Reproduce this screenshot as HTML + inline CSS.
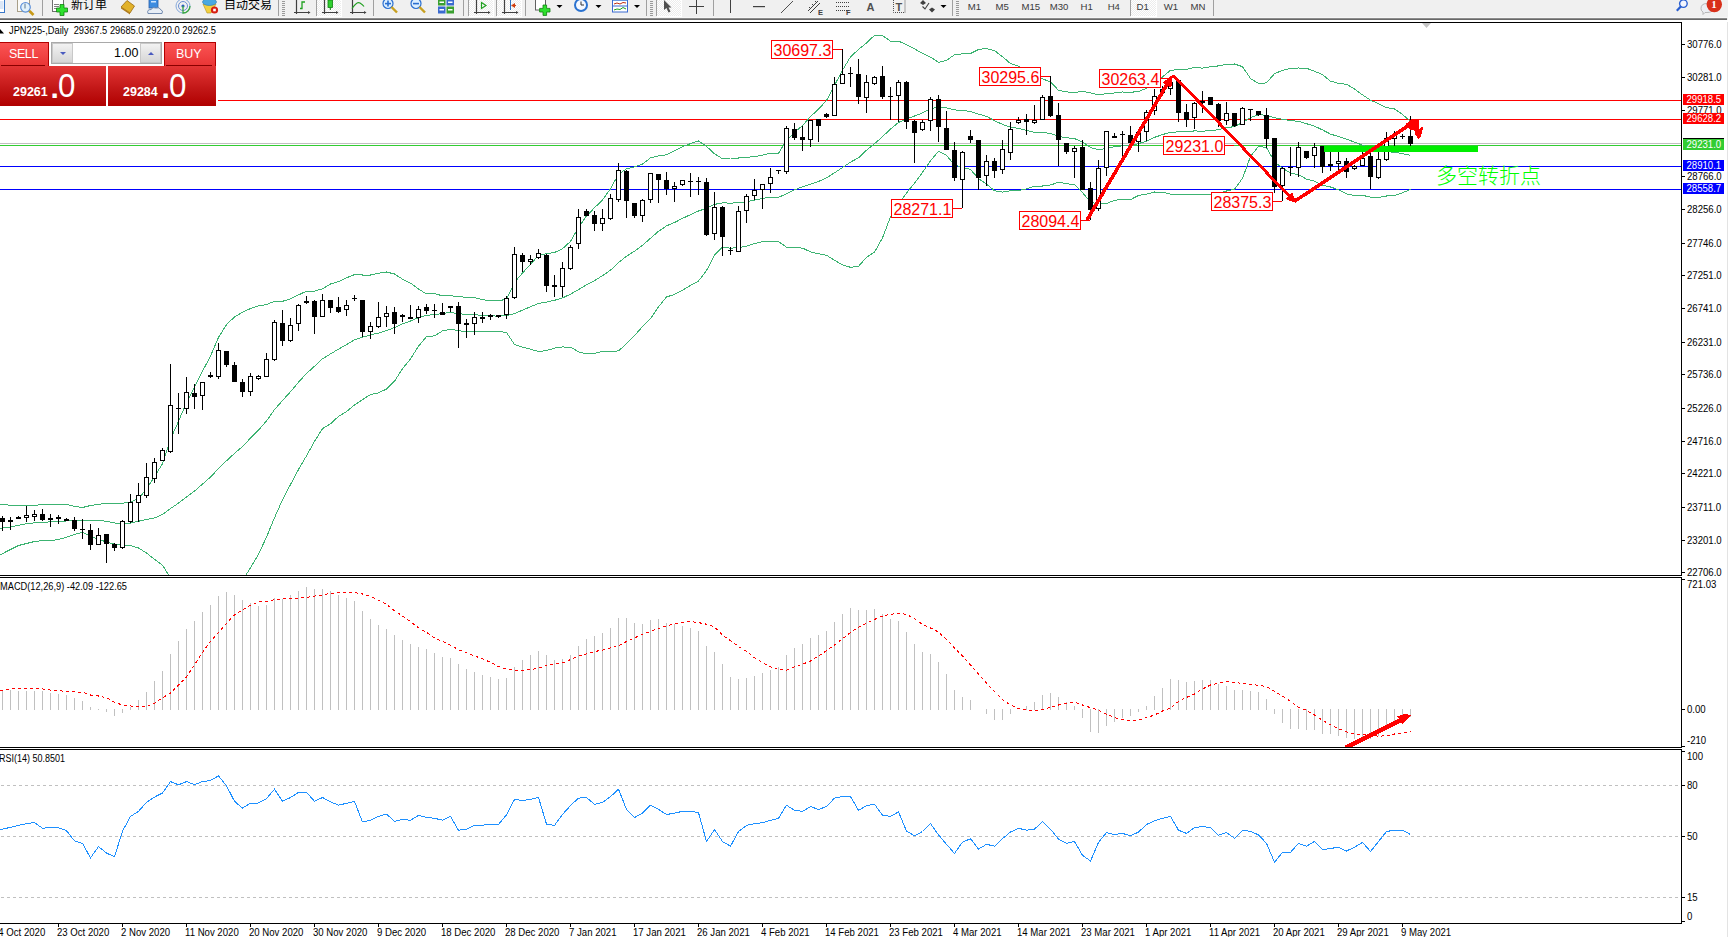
<!DOCTYPE html>
<html><head><meta charset="utf-8"><title>JPN225 Daily</title><style>
*{margin:0;padding:0;box-sizing:border-box}
html,body{width:1728px;height:937px;overflow:hidden;background:#fff;font-family:'Liberation Sans', 'DejaVu Sans', sans-serif}
#root{position:relative;width:1728px;height:937px;overflow:hidden}
.oc{position:absolute;left:0;top:42px;width:218px;height:64px;background:#fff}
.sell,.buy{position:absolute;top:0;height:25px;color:#fff;font-size:12.5px;line-height:22px;
  background:linear-gradient(#fb5454,#e83333);border:1px solid #b30000;border-bottom:none}
.sell{left:0;width:49px;padding-left:9px;border-left:none;letter-spacing:-0.4px}
.buy{left:164px;width:52px;padding-left:11px}
.sell:after,.buy:after{content:"";position:absolute;left:1px;right:3px;top:22px;height:1px;background:#8a0000}
.lot{position:absolute;left:51px;top:0;width:111px;height:22px;border:1px solid #a9a9a9;background:#fff}
.dn,.up{position:absolute;top:0;width:21px;height:20px;background:linear-gradient(#f2f2f2,#d6d6d6);border:1px solid #c8c8c8}
.dn{left:0} .up{right:0}
.dn i,.up i{position:absolute;left:7px;top:8px;width:0;height:0;border-left:3px solid transparent;border-right:3px solid transparent}
.dn i{border-top:3px solid #4a5bbf} .up i{border-bottom:3px solid #4a5bbf}
.val{position:absolute;left:62px;top:3px;font-size:12.5px;color:#000}
.pb{position:absolute;top:24px;height:40px;background:linear-gradient(#e33535,#c01515 60%,#b00000);color:#fff;white-space:nowrap}
.pl{left:0;width:106px} .pr{left:108px;width:108px}
.pb .s{position:absolute;bottom:7px;font-size:12.5px;font-weight:bold}
.pb .d{position:absolute;bottom:18.5px;font-size:30px;font-weight:bold;line-height:0}
.pb .b{position:absolute;bottom:4px;font-size:34px;line-height:34px;transform:scaleX(0.92);transform-origin:0 0}
.pl .s{left:13px} .pl .d{left:50.5px} .pl .b{left:58px}
.pr .s{left:15px} .pr .d{left:53.5px} .pr .b{left:61px}
</style></head>
<body><div id="root">
<svg width="1728" height="937" viewBox="0 0 1728 937" style="position:absolute;left:0;top:0">
<defs><clipPath id="cm"><rect x="0" y="23" width="1681" height="552"/></clipPath><clipPath id="cd"><rect x="0" y="578" width="1681" height="169"/></clipPath><clipPath id="cr"><rect x="0" y="750" width="1681" height="173"/></clipPath></defs>
<g shape-rendering="crispEdges" fill="#000">
<rect x="0" y="22" width="1682" height="1"/>
<rect x="1681" y="22" width="1" height="554"/>
<rect x="0" y="575" width="1682" height="1"/>
<rect x="0" y="577" width="1682" height="1"/>
<rect x="1681" y="577" width="1" height="171"/>
<rect x="0" y="747" width="1682" height="1"/>
<rect x="0" y="749" width="1682" height="1"/>
<rect x="1681" y="749" width="1" height="175"/>
<rect x="0" y="923" width="1682" height="1"/>
</g>
<g clip-path="url(#cm)">
<g shape-rendering="crispEdges">
<rect x="0" y="100" width="1681" height="1" fill="#ff0000"/>
<rect x="0" y="119" width="1681" height="1" fill="#ff0000"/>
<rect x="0" y="143" width="1681" height="1" fill="#c0c0c0"/>
<rect x="0" y="145" width="1681" height="1" fill="#32cd32"/>
<rect x="0" y="166" width="1681" height="1" fill="#0000ff"/>
<rect x="0" y="189" width="1681" height="1" fill="#0000ff"/>
</g>
<g fill="none" stroke="#3cb371" stroke-width="1" shape-rendering="crispEdges">
<polyline points="-5.5,503.7 2.5,504.5 10.5,505.3 18.5,505.3 26.5,505.3 34.5,505.3 42.5,504.6 50.5,504.4 58.5,504.4 66.5,504.4 74.5,506.4 82.5,507.5 90.5,505.5 98.5,504.3 106.5,503.3 114.5,503.4 122.5,503.2 130.5,502.3 138.5,498.5 146.5,489.0 154.5,476.7 162.5,463.6 170.5,439.1 178.5,421.4 186.5,402.3 194.5,387.4 202.5,371.1 210.5,356.1 218.5,337.4 226.5,324.6 234.5,316.9 242.5,312.2 250.5,308.5 258.5,305.9 266.5,304.6 274.5,301.3 282.5,301.3 290.5,298.9 298.5,294.9 306.5,291.2 314.5,291.1 322.5,288.8 330.5,284.0 338.5,281.7 346.5,277.8 354.5,274.6 362.5,275.0 370.5,275.0 378.5,273.3 386.5,272.0 394.5,274.0 402.5,279.1 410.5,283.1 418.5,289.1 426.5,293.9 434.5,293.5 442.5,295.9 450.5,295.8 458.5,296.4 466.5,297.5 474.5,297.5 482.5,299.8 490.5,300.5 498.5,300.8 506.5,299.2 514.5,282.5 522.5,273.0 530.5,264.3 538.5,255.4 546.5,253.7 554.5,252.5 562.5,248.7 570.5,241.4 578.5,227.5 586.5,215.9 594.5,207.8 602.5,199.9 610.5,188.8 618.5,174.1 626.5,168.9 634.5,166.9 642.5,164.1 650.5,157.8 658.5,155.8 666.5,154.8 674.5,150.6 682.5,146.6 690.5,143.6 698.5,141.0 706.5,146.3 714.5,153.8 722.5,158.7 730.5,158.0 738.5,158.0 746.5,157.4 754.5,156.6 762.5,155.2 770.5,153.1 778.5,153.3 786.5,140.3 794.5,132.3 802.5,125.6 810.5,116.5 818.5,109.2 826.5,100.5 834.5,85.4 842.5,70.2 850.5,56.9 858.5,49.4 866.5,43.0 874.5,35.3 882.5,35.5 890.5,41.2 898.5,41.1 906.5,44.7 914.5,48.9 922.5,53.4 930.5,57.1 938.5,62.4 946.5,60.4 954.5,54.8 962.5,53.8 970.5,53.5 978.5,49.5 986.5,48.5 994.5,50.6 1002.5,56.7 1010.5,63.6 1018.5,66.1 1026.5,71.7 1034.5,78.9 1042.5,78.9 1050.5,81.8 1058.5,90.3 1066.5,91.9 1074.5,92.5 1082.5,91.4 1090.5,92.8 1098.5,95.0 1106.5,93.5 1114.5,93.0 1122.5,92.0 1130.5,92.2 1138.5,91.7 1146.5,88.2 1154.5,82.8 1162.5,77.0 1170.5,70.3 1178.5,69.6 1186.5,69.4 1194.5,67.5 1202.5,68.1 1210.5,66.8 1218.5,65.9 1226.5,64.4 1234.5,64.0 1242.5,66.7 1250.5,78.5 1258.5,83.5 1266.5,82.9 1274.5,73.6 1282.5,70.5 1290.5,68.3 1298.5,68.0 1306.5,68.2 1314.5,71.3 1322.5,74.5 1330.5,81.2 1338.5,83.3 1346.5,84.3 1354.5,88.9 1362.5,94.9 1370.5,100.2 1378.5,103.6 1386.5,107.7 1394.5,108.9 1402.5,114.5 1410.5,121.3"/>
<polyline points="-5.5,529.0 2.5,528.0 10.5,527.0 18.5,525.2 26.5,523.8 34.5,522.8 42.5,522.2 50.5,521.9 58.5,521.3 66.5,521.0 74.5,520.3 82.5,520.2 90.5,520.2 98.5,520.2 106.5,521.3 114.5,523.0 122.5,524.0 130.5,523.2 138.5,521.2 146.5,519.6 154.5,518.0 162.5,514.4 170.5,508.6 178.5,503.1 186.5,496.9 194.5,491.1 202.5,484.1 210.5,477.0 218.5,468.6 226.5,460.8 234.5,453.4 242.5,446.5 250.5,438.1 258.5,430.1 266.5,420.9 274.5,409.6 282.5,400.6 290.5,391.7 298.5,382.2 306.5,373.5 314.5,366.2 322.5,358.8 330.5,353.9 338.5,349.1 346.5,344.7 354.5,339.8 362.5,337.3 370.5,334.8 378.5,333.1 386.5,330.5 394.5,327.6 402.5,323.9 410.5,321.0 418.5,317.6 426.5,315.2 434.5,314.7 442.5,313.4 450.5,312.6 458.5,313.5 466.5,314.6 474.5,314.6 482.5,315.6 490.5,315.9 498.5,316.1 506.5,315.8 514.5,313.6 522.5,310.1 530.5,306.7 538.5,303.5 546.5,302.1 554.5,300.3 562.5,297.9 570.5,294.2 578.5,289.6 586.5,284.9 594.5,280.6 602.5,275.7 610.5,270.2 618.5,262.5 626.5,256.3 634.5,251.2 642.5,245.3 650.5,238.2 658.5,231.3 666.5,225.9 674.5,222.5 682.5,218.4 690.5,214.6 698.5,211.0 706.5,208.4 714.5,204.4 722.5,202.9 730.5,203.1 738.5,202.8 746.5,201.8 754.5,200.1 762.5,198.4 770.5,197.3 778.5,197.4 786.5,193.8 794.5,189.8 802.5,186.8 810.5,184.2 818.5,181.5 826.5,177.9 834.5,172.8 842.5,167.5 850.5,162.1 858.5,157.8 866.5,150.2 874.5,143.7 882.5,136.7 890.5,129.0 898.5,122.5 906.5,118.8 914.5,116.0 922.5,112.9 930.5,109.0 938.5,106.8 946.5,107.9 954.5,109.9 962.5,110.5 970.5,111.5 978.5,114.1 986.5,116.3 994.5,120.7 1002.5,124.4 1010.5,127.2 1018.5,128.3 1026.5,130.3 1034.5,132.4 1042.5,132.4 1050.5,133.4 1058.5,136.3 1066.5,137.8 1074.5,138.6 1082.5,141.9 1090.5,147.5 1098.5,149.6 1106.5,148.6 1114.5,146.6 1122.5,145.8 1130.5,145.9 1138.5,143.6 1146.5,141.2 1154.5,137.4 1162.5,134.6 1170.5,132.2 1178.5,131.9 1186.5,131.8 1194.5,130.9 1202.5,131.2 1210.5,130.6 1218.5,129.7 1226.5,127.7 1234.5,126.6 1242.5,122.5 1250.5,117.5 1258.5,114.8 1266.5,115.2 1274.5,117.7 1282.5,119.3 1290.5,120.6 1298.5,121.3 1306.5,123.7 1314.5,126.2 1322.5,129.9 1330.5,134.1 1338.5,136.5 1346.5,139.1 1354.5,142.2 1362.5,145.1 1370.5,148.7 1378.5,150.6 1386.5,151.8 1394.5,152.2 1402.5,153.7 1410.5,155.3"/>
<polyline points="-5.5,557.7 2.5,553.6 10.5,549.5 18.5,545.5 26.5,543.5 34.5,541.5 42.5,540.6 50.5,540.6 58.5,539.5 66.5,537.3 74.5,534.3 82.5,532.4 90.5,536.2 98.5,539.3 106.5,542.0 114.5,544.2 122.5,544.9 130.5,545.5 138.5,548.0 146.5,553.0 154.5,559.3 162.5,565.2 170.5,578.0 178.5,584.7 186.5,591.5 194.5,594.7 202.5,597.2 210.5,597.9 218.5,599.7 226.5,596.9 234.5,589.9 242.5,580.8 250.5,567.6 258.5,554.3 266.5,537.1 274.5,517.8 282.5,499.8 290.5,484.5 298.5,469.5 306.5,455.8 314.5,441.4 322.5,428.7 330.5,423.8 338.5,416.4 346.5,411.6 354.5,405.0 362.5,399.6 370.5,394.5 378.5,392.9 386.5,389.0 394.5,381.2 402.5,368.6 410.5,358.9 418.5,346.2 426.5,336.6 434.5,335.9 442.5,330.9 450.5,329.3 458.5,330.6 466.5,331.7 474.5,331.7 482.5,331.3 490.5,331.3 498.5,331.5 506.5,332.4 514.5,344.6 522.5,347.1 530.5,349.1 538.5,351.6 546.5,350.6 554.5,348.1 562.5,347.0 570.5,347.1 578.5,351.8 586.5,353.9 594.5,353.3 602.5,351.5 610.5,351.6 618.5,350.9 626.5,343.7 634.5,335.6 642.5,326.5 650.5,318.6 658.5,306.9 666.5,297.0 674.5,294.4 682.5,290.2 690.5,285.5 698.5,281.0 706.5,270.6 714.5,255.1 722.5,247.1 730.5,248.2 738.5,247.6 746.5,246.2 754.5,243.6 762.5,241.6 770.5,241.6 778.5,241.5 786.5,247.2 794.5,247.4 802.5,248.1 810.5,251.9 818.5,253.8 826.5,255.3 834.5,260.2 842.5,264.8 850.5,267.3 858.5,266.3 866.5,257.4 874.5,252.1 882.5,237.9 890.5,216.8 898.5,204.0 906.5,193.0 914.5,183.1 922.5,172.4 930.5,160.9 938.5,151.2 946.5,155.4 954.5,165.0 962.5,167.2 970.5,169.5 978.5,178.7 986.5,184.1 994.5,190.7 1002.5,192.1 1010.5,190.7 1018.5,190.5 1026.5,188.9 1034.5,186.0 1042.5,186.0 1050.5,185.0 1058.5,182.3 1066.5,183.7 1074.5,184.6 1082.5,192.5 1090.5,202.2 1098.5,204.1 1106.5,203.7 1114.5,200.2 1122.5,199.5 1130.5,199.6 1138.5,195.5 1146.5,194.1 1154.5,192.0 1162.5,192.2 1170.5,194.2 1178.5,194.2 1186.5,194.2 1194.5,194.4 1202.5,194.2 1210.5,194.4 1218.5,193.4 1226.5,191.0 1234.5,189.2 1242.5,178.3 1250.5,156.5 1258.5,146.2 1266.5,147.6 1274.5,161.8 1282.5,168.2 1290.5,172.9 1298.5,174.7 1306.5,179.1 1314.5,181.1 1322.5,185.3 1330.5,187.0 1338.5,189.7 1346.5,193.9 1354.5,195.6 1362.5,195.3 1370.5,197.2 1378.5,197.6 1386.5,196.0 1394.5,195.6 1402.5,192.8 1410.5,189.4"/>
</g>
<g shape-rendering="crispEdges">
<rect x="2" y="516" width="1" height="15" fill="#000"/>
<rect x="0" y="518" width="5" height="4" fill="#000"/>
<rect x="10" y="517" width="1" height="13" fill="#000"/>
<rect x="8" y="520" width="5" height="2" fill="#000"/>
<rect x="18" y="516" width="1" height="3" fill="#000"/>
<rect x="16" y="517" width="5" height="2" fill="#000"/>
<rect x="26" y="506" width="1" height="16" fill="#000"/>
<rect x="24.5" y="515.5" width="4" height="2" fill="#fff" stroke="#000"/>
<rect x="34" y="510" width="1" height="11" fill="#000"/>
<rect x="32.5" y="514.5" width="4" height="2" fill="#fff" stroke="#000"/>
<rect x="42" y="509" width="1" height="12" fill="#000"/>
<rect x="40" y="514" width="5" height="6" fill="#000"/>
<rect x="50" y="514" width="1" height="13" fill="#000"/>
<rect x="48" y="518" width="5" height="2" fill="#000"/>
<rect x="58" y="515" width="1" height="9" fill="#000"/>
<rect x="56" y="517" width="5" height="2" fill="#000"/>
<rect x="66" y="518" width="1" height="3" fill="#000"/>
<rect x="64" y="519" width="5" height="2" fill="#000"/>
<rect x="74" y="517" width="1" height="14" fill="#000"/>
<rect x="72" y="520" width="5" height="9" fill="#000"/>
<rect x="82" y="519" width="1" height="20" fill="#000"/>
<rect x="80" y="529" width="5" height="1" fill="#000"/>
<rect x="90" y="524" width="1" height="26" fill="#000"/>
<rect x="88" y="530" width="5" height="15" fill="#000"/>
<rect x="98" y="528" width="1" height="17" fill="#000"/>
<rect x="96.5" y="535.5" width="4" height="9" fill="#fff" stroke="#000"/>
<rect x="106" y="534" width="1" height="29" fill="#000"/>
<rect x="104" y="534" width="5" height="10" fill="#000"/>
<rect x="114" y="543" width="1" height="8" fill="#000"/>
<rect x="112" y="544" width="5" height="4" fill="#000"/>
<rect x="122" y="520" width="1" height="29" fill="#000"/>
<rect x="120.5" y="521.5" width="4" height="26" fill="#fff" stroke="#000"/>
<rect x="130" y="494" width="1" height="29" fill="#000"/>
<rect x="128.5" y="502.5" width="4" height="19" fill="#fff" stroke="#000"/>
<rect x="138" y="483" width="1" height="39" fill="#000"/>
<rect x="136.5" y="495.5" width="4" height="7" fill="#fff" stroke="#000"/>
<rect x="146" y="463" width="1" height="35" fill="#000"/>
<rect x="144.5" y="477.5" width="4" height="18" fill="#fff" stroke="#000"/>
<rect x="154" y="458" width="1" height="25" fill="#000"/>
<rect x="152.5" y="462.5" width="4" height="16" fill="#fff" stroke="#000"/>
<rect x="162" y="448" width="1" height="13" fill="#000"/>
<rect x="160.5" y="450.5" width="4" height="10" fill="#fff" stroke="#000"/>
<rect x="170" y="364" width="1" height="89" fill="#000"/>
<rect x="168.5" y="405.5" width="4" height="46" fill="#fff" stroke="#000"/>
<rect x="178" y="393" width="1" height="41" fill="#000"/>
<rect x="176" y="408" width="5" height="1" fill="#000"/>
<rect x="186" y="377" width="1" height="37" fill="#000"/>
<rect x="184.5" y="392.5" width="4" height="16" fill="#fff" stroke="#000"/>
<rect x="194" y="384" width="1" height="25" fill="#000"/>
<rect x="192" y="393" width="5" height="4" fill="#000"/>
<rect x="202" y="382" width="1" height="28" fill="#000"/>
<rect x="200.5" y="382.5" width="4" height="13" fill="#fff" stroke="#000"/>
<rect x="210" y="372" width="1" height="6" fill="#000"/>
<rect x="208" y="375" width="5" height="2" fill="#000"/>
<rect x="218" y="343" width="1" height="36" fill="#000"/>
<rect x="216.5" y="350.5" width="4" height="26" fill="#fff" stroke="#000"/>
<rect x="226" y="351" width="1" height="16" fill="#000"/>
<rect x="224" y="351" width="5" height="14" fill="#000"/>
<rect x="234" y="362" width="1" height="20" fill="#000"/>
<rect x="232" y="365" width="5" height="17" fill="#000"/>
<rect x="242" y="379" width="1" height="18" fill="#000"/>
<rect x="240" y="382" width="5" height="10" fill="#000"/>
<rect x="250" y="373" width="1" height="23" fill="#000"/>
<rect x="248.5" y="376.5" width="4" height="15" fill="#fff" stroke="#000"/>
<rect x="258" y="375" width="1" height="5" fill="#000"/>
<rect x="256.5" y="376.5" width="4" height="2" fill="#fff" stroke="#000"/>
<rect x="266" y="353" width="1" height="24" fill="#000"/>
<rect x="264.5" y="359.5" width="4" height="17" fill="#fff" stroke="#000"/>
<rect x="274" y="320" width="1" height="41" fill="#000"/>
<rect x="272.5" y="322.5" width="4" height="37" fill="#fff" stroke="#000"/>
<rect x="282" y="310" width="1" height="36" fill="#000"/>
<rect x="280" y="323" width="5" height="18" fill="#000"/>
<rect x="290" y="318" width="1" height="24" fill="#000"/>
<rect x="288.5" y="325.5" width="4" height="15" fill="#fff" stroke="#000"/>
<rect x="298" y="304" width="1" height="27" fill="#000"/>
<rect x="296.5" y="305.5" width="4" height="18" fill="#fff" stroke="#000"/>
<rect x="306" y="296" width="1" height="8" fill="#000"/>
<rect x="304" y="301" width="5" height="2" fill="#000"/>
<rect x="314" y="300" width="1" height="34" fill="#000"/>
<rect x="312" y="301" width="5" height="16" fill="#000"/>
<rect x="322" y="294" width="1" height="23" fill="#000"/>
<rect x="320.5" y="300.5" width="4" height="16" fill="#fff" stroke="#000"/>
<rect x="330" y="300" width="1" height="13" fill="#000"/>
<rect x="328" y="300" width="5" height="8" fill="#000"/>
<rect x="338" y="297" width="1" height="16" fill="#000"/>
<rect x="336" y="307" width="5" height="5" fill="#000"/>
<rect x="346" y="300" width="1" height="16" fill="#000"/>
<rect x="344.5" y="305.5" width="4" height="4" fill="#fff" stroke="#000"/>
<rect x="354" y="295" width="1" height="6" fill="#000"/>
<rect x="352" y="298" width="5" height="1" fill="#000"/>
<rect x="362" y="300" width="1" height="37" fill="#000"/>
<rect x="360" y="300" width="5" height="32" fill="#000"/>
<rect x="370" y="322" width="1" height="17" fill="#000"/>
<rect x="368.5" y="326.5" width="4" height="5" fill="#fff" stroke="#000"/>
<rect x="378" y="302" width="1" height="26" fill="#000"/>
<rect x="376.5" y="317.5" width="4" height="9" fill="#fff" stroke="#000"/>
<rect x="386" y="306" width="1" height="21" fill="#000"/>
<rect x="384.5" y="313.5" width="4" height="3" fill="#fff" stroke="#000"/>
<rect x="394" y="307" width="1" height="27" fill="#000"/>
<rect x="392" y="312" width="5" height="12" fill="#000"/>
<rect x="402" y="314" width="1" height="8" fill="#000"/>
<rect x="400" y="315" width="5" height="2" fill="#000"/>
<rect x="410" y="305" width="1" height="14" fill="#000"/>
<rect x="408" y="317" width="5" height="2" fill="#000"/>
<rect x="418" y="306" width="1" height="17" fill="#000"/>
<rect x="416.5" y="309.5" width="4" height="8" fill="#fff" stroke="#000"/>
<rect x="426" y="304" width="1" height="10" fill="#000"/>
<rect x="424" y="307" width="5" height="4" fill="#000"/>
<rect x="434" y="304" width="1" height="14" fill="#000"/>
<rect x="432" y="310" width="5" height="1" fill="#000"/>
<rect x="442" y="303" width="1" height="12" fill="#000"/>
<rect x="440" y="312" width="5" height="3" fill="#000"/>
<rect x="450" y="306" width="1" height="6" fill="#000"/>
<rect x="448" y="306" width="5" height="2" fill="#000"/>
<rect x="458" y="302" width="1" height="46" fill="#000"/>
<rect x="456" y="306" width="5" height="18" fill="#000"/>
<rect x="466" y="319" width="1" height="19" fill="#000"/>
<rect x="464" y="323" width="5" height="2" fill="#000"/>
<rect x="474" y="312" width="1" height="23" fill="#000"/>
<rect x="472.5" y="317.5" width="4" height="6" fill="#fff" stroke="#000"/>
<rect x="482" y="312" width="1" height="11" fill="#000"/>
<rect x="480" y="317" width="5" height="2" fill="#000"/>
<rect x="490" y="314" width="1" height="6" fill="#000"/>
<rect x="488.5" y="315.5" width="4" height="1" fill="#fff" stroke="#000"/>
<rect x="498" y="315" width="1" height="3" fill="#000"/>
<rect x="496" y="315" width="5" height="2" fill="#000"/>
<rect x="506" y="296" width="1" height="23" fill="#000"/>
<rect x="504.5" y="298.5" width="4" height="16" fill="#fff" stroke="#000"/>
<rect x="514" y="247" width="1" height="52" fill="#000"/>
<rect x="512.5" y="254.5" width="4" height="43" fill="#fff" stroke="#000"/>
<rect x="522" y="253" width="1" height="19" fill="#000"/>
<rect x="520" y="255" width="5" height="7" fill="#000"/>
<rect x="530" y="255" width="1" height="10" fill="#000"/>
<rect x="528.5" y="259.5" width="4" height="2" fill="#fff" stroke="#000"/>
<rect x="538" y="249" width="1" height="10" fill="#000"/>
<rect x="536.5" y="253.5" width="4" height="4" fill="#fff" stroke="#000"/>
<rect x="546" y="254" width="1" height="38" fill="#000"/>
<rect x="544" y="255" width="5" height="31" fill="#000"/>
<rect x="554" y="275" width="1" height="22" fill="#000"/>
<rect x="552" y="285" width="5" height="2" fill="#000"/>
<rect x="562" y="262" width="1" height="35" fill="#000"/>
<rect x="560.5" y="268.5" width="4" height="18" fill="#fff" stroke="#000"/>
<rect x="570" y="245" width="1" height="25" fill="#000"/>
<rect x="568.5" y="247.5" width="4" height="21" fill="#fff" stroke="#000"/>
<rect x="578" y="209" width="1" height="40" fill="#000"/>
<rect x="576.5" y="217.5" width="4" height="26" fill="#fff" stroke="#000"/>
<rect x="586" y="209" width="1" height="7" fill="#000"/>
<rect x="584" y="211" width="5" height="5" fill="#000"/>
<rect x="594" y="211" width="1" height="20" fill="#000"/>
<rect x="592" y="215" width="5" height="9" fill="#000"/>
<rect x="602" y="209" width="1" height="22" fill="#000"/>
<rect x="600.5" y="218.5" width="4" height="5" fill="#fff" stroke="#000"/>
<rect x="610" y="194" width="1" height="26" fill="#000"/>
<rect x="608.5" y="198.5" width="4" height="20" fill="#fff" stroke="#000"/>
<rect x="618" y="163" width="1" height="39" fill="#000"/>
<rect x="616.5" y="170.5" width="4" height="29" fill="#fff" stroke="#000"/>
<rect x="626" y="170" width="1" height="48" fill="#000"/>
<rect x="624" y="171" width="5" height="30" fill="#000"/>
<rect x="634" y="203" width="1" height="15" fill="#000"/>
<rect x="632" y="203" width="5" height="13" fill="#000"/>
<rect x="642" y="199" width="1" height="23" fill="#000"/>
<rect x="640.5" y="200.5" width="4" height="15" fill="#fff" stroke="#000"/>
<rect x="650" y="173" width="1" height="30" fill="#000"/>
<rect x="648.5" y="173.5" width="4" height="26" fill="#fff" stroke="#000"/>
<rect x="658" y="174" width="1" height="29" fill="#000"/>
<rect x="656" y="174" width="5" height="6" fill="#000"/>
<rect x="666" y="172" width="1" height="23" fill="#000"/>
<rect x="664" y="180" width="5" height="9" fill="#000"/>
<rect x="674" y="182" width="1" height="20" fill="#000"/>
<rect x="672.5" y="186.5" width="4" height="2" fill="#fff" stroke="#000"/>
<rect x="682" y="180" width="1" height="6" fill="#000"/>
<rect x="680.5" y="180.5" width="4" height="4" fill="#fff" stroke="#000"/>
<rect x="690" y="173" width="1" height="24" fill="#000"/>
<rect x="688" y="181" width="5" height="1" fill="#000"/>
<rect x="698" y="177" width="1" height="18" fill="#000"/>
<rect x="696" y="181" width="5" height="1" fill="#000"/>
<rect x="706" y="178" width="1" height="58" fill="#000"/>
<rect x="704" y="182" width="5" height="53" fill="#000"/>
<rect x="714" y="192" width="1" height="48" fill="#000"/>
<rect x="712.5" y="207.5" width="4" height="26" fill="#fff" stroke="#000"/>
<rect x="722" y="206" width="1" height="50" fill="#000"/>
<rect x="720" y="207" width="5" height="30" fill="#000"/>
<rect x="730" y="247" width="1" height="8" fill="#000"/>
<rect x="728" y="250" width="5" height="1" fill="#000"/>
<rect x="738" y="206" width="1" height="46" fill="#000"/>
<rect x="736.5" y="211.5" width="4" height="40" fill="#fff" stroke="#000"/>
<rect x="746" y="194" width="1" height="29" fill="#000"/>
<rect x="744.5" y="196.5" width="4" height="14" fill="#fff" stroke="#000"/>
<rect x="754" y="179" width="1" height="21" fill="#000"/>
<rect x="752.5" y="190.5" width="4" height="5" fill="#fff" stroke="#000"/>
<rect x="762" y="184" width="1" height="25" fill="#000"/>
<rect x="760.5" y="184.5" width="4" height="5" fill="#fff" stroke="#000"/>
<rect x="770" y="168" width="1" height="25" fill="#000"/>
<rect x="768.5" y="177.5" width="4" height="6" fill="#fff" stroke="#000"/>
<rect x="778" y="170" width="1" height="4" fill="#000"/>
<rect x="776" y="170" width="5" height="1" fill="#000"/>
<rect x="786" y="126" width="1" height="48" fill="#000"/>
<rect x="784.5" y="128.5" width="4" height="43" fill="#fff" stroke="#000"/>
<rect x="794" y="123" width="1" height="17" fill="#000"/>
<rect x="792" y="129" width="5" height="9" fill="#000"/>
<rect x="802" y="126" width="1" height="25" fill="#000"/>
<rect x="800" y="137" width="5" height="3" fill="#000"/>
<rect x="810" y="120" width="1" height="27" fill="#000"/>
<rect x="808.5" y="120.5" width="4" height="19" fill="#fff" stroke="#000"/>
<rect x="818" y="119" width="1" height="23" fill="#000"/>
<rect x="816" y="119" width="5" height="7" fill="#000"/>
<rect x="826" y="113" width="1" height="5" fill="#000"/>
<rect x="824" y="114" width="5" height="3" fill="#000"/>
<rect x="834" y="77" width="1" height="39" fill="#000"/>
<rect x="832.5" y="84.5" width="4" height="31" fill="#fff" stroke="#000"/>
<rect x="842" y="49" width="1" height="35" fill="#000"/>
<rect x="840.5" y="74.5" width="4" height="9" fill="#fff" stroke="#000"/>
<rect x="850" y="67" width="1" height="20" fill="#000"/>
<rect x="848" y="73" width="5" height="1" fill="#000"/>
<rect x="858" y="59" width="1" height="45" fill="#000"/>
<rect x="856" y="74" width="5" height="23" fill="#000"/>
<rect x="866" y="75" width="1" height="38" fill="#000"/>
<rect x="864.5" y="82.5" width="4" height="15" fill="#fff" stroke="#000"/>
<rect x="874" y="76" width="1" height="9" fill="#000"/>
<rect x="872.5" y="77.5" width="4" height="6" fill="#fff" stroke="#000"/>
<rect x="882" y="66" width="1" height="33" fill="#000"/>
<rect x="880" y="76" width="5" height="21" fill="#000"/>
<rect x="890" y="87" width="1" height="33" fill="#000"/>
<rect x="888" y="96" width="5" height="1" fill="#000"/>
<rect x="898" y="80" width="1" height="42" fill="#000"/>
<rect x="896.5" y="82.5" width="4" height="13" fill="#fff" stroke="#000"/>
<rect x="906" y="81" width="1" height="48" fill="#000"/>
<rect x="904" y="82" width="5" height="40" fill="#000"/>
<rect x="914" y="120" width="1" height="43" fill="#000"/>
<rect x="912" y="121" width="5" height="12" fill="#000"/>
<rect x="922" y="120" width="1" height="11" fill="#000"/>
<rect x="920.5" y="122.5" width="4" height="7" fill="#fff" stroke="#000"/>
<rect x="930" y="97" width="1" height="34" fill="#000"/>
<rect x="928.5" y="99.5" width="4" height="21" fill="#fff" stroke="#000"/>
<rect x="938" y="95" width="1" height="47" fill="#000"/>
<rect x="936" y="99" width="5" height="28" fill="#000"/>
<rect x="946" y="111" width="1" height="39" fill="#000"/>
<rect x="944" y="128" width="5" height="22" fill="#000"/>
<rect x="954" y="142" width="1" height="39" fill="#000"/>
<rect x="952" y="150" width="5" height="28" fill="#000"/>
<rect x="962" y="151" width="1" height="57" fill="#000"/>
<rect x="960.5" y="152.5" width="4" height="27" fill="#fff" stroke="#000"/>
<rect x="970" y="130" width="1" height="13" fill="#000"/>
<rect x="968" y="136" width="5" height="4" fill="#000"/>
<rect x="978" y="140" width="1" height="50" fill="#000"/>
<rect x="976" y="140" width="5" height="38" fill="#000"/>
<rect x="986" y="155" width="1" height="31" fill="#000"/>
<rect x="984.5" y="161.5" width="4" height="14" fill="#fff" stroke="#000"/>
<rect x="994" y="158" width="1" height="20" fill="#000"/>
<rect x="992" y="161" width="5" height="10" fill="#000"/>
<rect x="1002" y="140" width="1" height="34" fill="#000"/>
<rect x="1000.5" y="149.5" width="4" height="20" fill="#fff" stroke="#000"/>
<rect x="1010" y="122" width="1" height="38" fill="#000"/>
<rect x="1008.5" y="129.5" width="4" height="23" fill="#fff" stroke="#000"/>
<rect x="1018" y="117" width="1" height="7" fill="#000"/>
<rect x="1016.5" y="120.5" width="4" height="2" fill="#fff" stroke="#000"/>
<rect x="1026" y="114" width="1" height="21" fill="#000"/>
<rect x="1024" y="119" width="5" height="3" fill="#000"/>
<rect x="1034" y="105" width="1" height="19" fill="#000"/>
<rect x="1032.5" y="120.5" width="4" height="2" fill="#fff" stroke="#000"/>
<rect x="1042" y="95" width="1" height="25" fill="#000"/>
<rect x="1040.5" y="97.5" width="4" height="22" fill="#fff" stroke="#000"/>
<rect x="1050" y="76" width="1" height="41" fill="#000"/>
<rect x="1048" y="96" width="5" height="20" fill="#000"/>
<rect x="1058" y="103" width="1" height="63" fill="#000"/>
<rect x="1056" y="115" width="5" height="25" fill="#000"/>
<rect x="1066" y="143" width="1" height="11" fill="#000"/>
<rect x="1064" y="143" width="5" height="9" fill="#000"/>
<rect x="1074" y="146" width="1" height="32" fill="#000"/>
<rect x="1072.5" y="148.5" width="4" height="3" fill="#fff" stroke="#000"/>
<rect x="1082" y="140" width="1" height="50" fill="#000"/>
<rect x="1080" y="147" width="5" height="43" fill="#000"/>
<rect x="1090" y="182" width="1" height="38" fill="#000"/>
<rect x="1088" y="188" width="5" height="22" fill="#000"/>
<rect x="1098" y="160" width="1" height="51" fill="#000"/>
<rect x="1096.5" y="168.5" width="4" height="40" fill="#fff" stroke="#000"/>
<rect x="1106" y="131" width="1" height="45" fill="#000"/>
<rect x="1104.5" y="131.5" width="4" height="36" fill="#fff" stroke="#000"/>
<rect x="1114" y="133" width="1" height="5" fill="#000"/>
<rect x="1112" y="136" width="5" height="2" fill="#000"/>
<rect x="1122" y="131" width="1" height="26" fill="#000"/>
<rect x="1120" y="134" width="5" height="1" fill="#000"/>
<rect x="1130" y="126" width="1" height="17" fill="#000"/>
<rect x="1128" y="135" width="5" height="8" fill="#000"/>
<rect x="1138" y="131" width="1" height="21" fill="#000"/>
<rect x="1136.5" y="132.5" width="4" height="9" fill="#fff" stroke="#000"/>
<rect x="1146" y="110" width="1" height="31" fill="#000"/>
<rect x="1144.5" y="112.5" width="4" height="19" fill="#fff" stroke="#000"/>
<rect x="1154" y="89" width="1" height="26" fill="#000"/>
<rect x="1152.5" y="96.5" width="4" height="14" fill="#fff" stroke="#000"/>
<rect x="1162" y="86" width="1" height="9" fill="#000"/>
<rect x="1160" y="89" width="5" height="4" fill="#000"/>
<rect x="1170" y="78" width="1" height="17" fill="#000"/>
<rect x="1168.5" y="82.5" width="4" height="6" fill="#fff" stroke="#000"/>
<rect x="1178" y="80" width="1" height="42" fill="#000"/>
<rect x="1176" y="80" width="5" height="33" fill="#000"/>
<rect x="1186" y="104" width="1" height="23" fill="#000"/>
<rect x="1184" y="112" width="5" height="8" fill="#000"/>
<rect x="1194" y="102" width="1" height="27" fill="#000"/>
<rect x="1192.5" y="103.5" width="4" height="14" fill="#fff" stroke="#000"/>
<rect x="1202" y="91" width="1" height="22" fill="#000"/>
<rect x="1200.5" y="101.5" width="4" height="1" fill="#fff" stroke="#000"/>
<rect x="1210" y="97" width="1" height="8" fill="#000"/>
<rect x="1208" y="97" width="5" height="8" fill="#000"/>
<rect x="1218" y="103" width="1" height="24" fill="#000"/>
<rect x="1216" y="104" width="5" height="17" fill="#000"/>
<rect x="1226" y="102" width="1" height="23" fill="#000"/>
<rect x="1224.5" y="113.5" width="4" height="7" fill="#fff" stroke="#000"/>
<rect x="1234" y="113" width="1" height="14" fill="#000"/>
<rect x="1232" y="113" width="5" height="13" fill="#000"/>
<rect x="1242" y="107" width="1" height="18" fill="#000"/>
<rect x="1240.5" y="108.5" width="4" height="16" fill="#fff" stroke="#000"/>
<rect x="1250" y="109" width="1" height="12" fill="#000"/>
<rect x="1248" y="109" width="5" height="1" fill="#000"/>
<rect x="1258" y="111" width="1" height="5" fill="#000"/>
<rect x="1256" y="111" width="5" height="4" fill="#000"/>
<rect x="1266" y="108" width="1" height="40" fill="#000"/>
<rect x="1264" y="115" width="5" height="24" fill="#000"/>
<rect x="1274" y="138" width="1" height="55" fill="#000"/>
<rect x="1272" y="138" width="5" height="49" fill="#000"/>
<rect x="1282" y="167" width="1" height="34" fill="#000"/>
<rect x="1280.5" y="168.5" width="4" height="17" fill="#fff" stroke="#000"/>
<rect x="1290" y="147" width="1" height="29" fill="#000"/>
<rect x="1288" y="167" width="5" height="1" fill="#000"/>
<rect x="1298" y="142" width="1" height="35" fill="#000"/>
<rect x="1296.5" y="147.5" width="4" height="20" fill="#fff" stroke="#000"/>
<rect x="1306" y="151" width="1" height="8" fill="#000"/>
<rect x="1304" y="151" width="5" height="7" fill="#000"/>
<rect x="1314" y="143" width="1" height="25" fill="#000"/>
<rect x="1312.5" y="147.5" width="4" height="8" fill="#fff" stroke="#000"/>
<rect x="1322" y="146" width="1" height="27" fill="#000"/>
<rect x="1320" y="146" width="5" height="21" fill="#000"/>
<rect x="1330" y="150" width="1" height="21" fill="#000"/>
<rect x="1328" y="164" width="5" height="2" fill="#000"/>
<rect x="1338" y="150" width="1" height="20" fill="#000"/>
<rect x="1336.5" y="161.5" width="4" height="2" fill="#fff" stroke="#000"/>
<rect x="1346" y="158" width="1" height="20" fill="#000"/>
<rect x="1344" y="161" width="5" height="11" fill="#000"/>
<rect x="1354" y="165" width="1" height="5" fill="#000"/>
<rect x="1352.5" y="166.5" width="4" height="2" fill="#fff" stroke="#000"/>
<rect x="1362" y="150" width="1" height="16" fill="#000"/>
<rect x="1360.5" y="158.5" width="4" height="7" fill="#fff" stroke="#000"/>
<rect x="1370" y="153" width="1" height="36" fill="#000"/>
<rect x="1368" y="156" width="5" height="21" fill="#000"/>
<rect x="1378" y="150" width="1" height="29" fill="#000"/>
<rect x="1376.5" y="159.5" width="4" height="18" fill="#fff" stroke="#000"/>
<rect x="1386" y="132" width="1" height="29" fill="#000"/>
<rect x="1384.5" y="138.5" width="4" height="21" fill="#fff" stroke="#000"/>
<rect x="1394" y="131" width="1" height="15" fill="#000"/>
<rect x="1392.5" y="134.5" width="4" height="4" fill="#fff" stroke="#000"/>
<rect x="1402" y="134" width="1" height="5" fill="#000"/>
<rect x="1400" y="136" width="5" height="1" fill="#000"/>
<rect x="1410" y="116" width="1" height="30" fill="#000"/>
<rect x="1408" y="136" width="5" height="8" fill="#000"/>
</g>
</g>
<g clip-path="url(#cd)" shape-rendering="crispEdges">
<rect x="2" y="691" width="1" height="19" fill="#c0c0c0"/>
<rect x="10" y="690" width="1" height="20" fill="#c0c0c0"/>
<rect x="18" y="691" width="1" height="19" fill="#c0c0c0"/>
<rect x="26" y="691" width="1" height="19" fill="#c0c0c0"/>
<rect x="34" y="691" width="1" height="19" fill="#c0c0c0"/>
<rect x="42" y="691" width="1" height="19" fill="#c0c0c0"/>
<rect x="50" y="693" width="1" height="17" fill="#c0c0c0"/>
<rect x="58" y="694" width="1" height="16" fill="#c0c0c0"/>
<rect x="66" y="695" width="1" height="15" fill="#c0c0c0"/>
<rect x="74" y="698" width="1" height="12" fill="#c0c0c0"/>
<rect x="82" y="701" width="1" height="9" fill="#c0c0c0"/>
<rect x="90" y="707" width="1" height="3" fill="#c0c0c0"/>
<rect x="98" y="709" width="1" height="1" fill="#c0c0c0"/>
<rect x="106" y="709" width="1" height="3" fill="#c0c0c0"/>
<rect x="114" y="709" width="1" height="7" fill="#c0c0c0"/>
<rect x="122" y="709" width="1" height="4" fill="#c0c0c0"/>
<rect x="130" y="707" width="1" height="3" fill="#c0c0c0"/>
<rect x="138" y="700" width="1" height="10" fill="#c0c0c0"/>
<rect x="146" y="692" width="1" height="18" fill="#c0c0c0"/>
<rect x="154" y="681" width="1" height="29" fill="#c0c0c0"/>
<rect x="162" y="671" width="1" height="39" fill="#c0c0c0"/>
<rect x="170" y="654" width="1" height="56" fill="#c0c0c0"/>
<rect x="178" y="641" width="1" height="69" fill="#c0c0c0"/>
<rect x="186" y="629" width="1" height="81" fill="#c0c0c0"/>
<rect x="194" y="621" width="1" height="89" fill="#c0c0c0"/>
<rect x="202" y="612" width="1" height="98" fill="#c0c0c0"/>
<rect x="210" y="605" width="1" height="105" fill="#c0c0c0"/>
<rect x="218" y="596" width="1" height="114" fill="#c0c0c0"/>
<rect x="226" y="592" width="1" height="118" fill="#c0c0c0"/>
<rect x="234" y="595" width="1" height="115" fill="#c0c0c0"/>
<rect x="242" y="600" width="1" height="110" fill="#c0c0c0"/>
<rect x="250" y="603" width="1" height="107" fill="#c0c0c0"/>
<rect x="258" y="606" width="1" height="104" fill="#c0c0c0"/>
<rect x="266" y="605" width="1" height="105" fill="#c0c0c0"/>
<rect x="274" y="598" width="1" height="112" fill="#c0c0c0"/>
<rect x="282" y="599" width="1" height="111" fill="#c0c0c0"/>
<rect x="290" y="595" width="1" height="115" fill="#c0c0c0"/>
<rect x="298" y="591" width="1" height="119" fill="#c0c0c0"/>
<rect x="306" y="587" width="1" height="123" fill="#c0c0c0"/>
<rect x="314" y="589" width="1" height="121" fill="#c0c0c0"/>
<rect x="322" y="589" width="1" height="121" fill="#c0c0c0"/>
<rect x="330" y="591" width="1" height="119" fill="#c0c0c0"/>
<rect x="338" y="595" width="1" height="115" fill="#c0c0c0"/>
<rect x="346" y="598" width="1" height="112" fill="#c0c0c0"/>
<rect x="354" y="601" width="1" height="109" fill="#c0c0c0"/>
<rect x="362" y="611" width="1" height="99" fill="#c0c0c0"/>
<rect x="370" y="619" width="1" height="91" fill="#c0c0c0"/>
<rect x="378" y="625" width="1" height="85" fill="#c0c0c0"/>
<rect x="386" y="629" width="1" height="81" fill="#c0c0c0"/>
<rect x="394" y="635" width="1" height="75" fill="#c0c0c0"/>
<rect x="402" y="640" width="1" height="70" fill="#c0c0c0"/>
<rect x="410" y="644" width="1" height="66" fill="#c0c0c0"/>
<rect x="418" y="647" width="1" height="63" fill="#c0c0c0"/>
<rect x="426" y="649" width="1" height="61" fill="#c0c0c0"/>
<rect x="434" y="653" width="1" height="57" fill="#c0c0c0"/>
<rect x="442" y="657" width="1" height="53" fill="#c0c0c0"/>
<rect x="450" y="658" width="1" height="52" fill="#c0c0c0"/>
<rect x="458" y="664" width="1" height="46" fill="#c0c0c0"/>
<rect x="466" y="669" width="1" height="41" fill="#c0c0c0"/>
<rect x="474" y="672" width="1" height="38" fill="#c0c0c0"/>
<rect x="482" y="675" width="1" height="35" fill="#c0c0c0"/>
<rect x="490" y="677" width="1" height="33" fill="#c0c0c0"/>
<rect x="498" y="679" width="1" height="31" fill="#c0c0c0"/>
<rect x="506" y="678" width="1" height="32" fill="#c0c0c0"/>
<rect x="514" y="667" width="1" height="43" fill="#c0c0c0"/>
<rect x="522" y="660" width="1" height="50" fill="#c0c0c0"/>
<rect x="530" y="655" width="1" height="55" fill="#c0c0c0"/>
<rect x="538" y="651" width="1" height="59" fill="#c0c0c0"/>
<rect x="546" y="655" width="1" height="55" fill="#c0c0c0"/>
<rect x="554" y="660" width="1" height="50" fill="#c0c0c0"/>
<rect x="562" y="659" width="1" height="51" fill="#c0c0c0"/>
<rect x="570" y="655" width="1" height="55" fill="#c0c0c0"/>
<rect x="578" y="646" width="1" height="64" fill="#c0c0c0"/>
<rect x="586" y="639" width="1" height="71" fill="#c0c0c0"/>
<rect x="594" y="636" width="1" height="74" fill="#c0c0c0"/>
<rect x="602" y="633" width="1" height="77" fill="#c0c0c0"/>
<rect x="610" y="628" width="1" height="82" fill="#c0c0c0"/>
<rect x="618" y="618" width="1" height="92" fill="#c0c0c0"/>
<rect x="626" y="618" width="1" height="92" fill="#c0c0c0"/>
<rect x="634" y="623" width="1" height="87" fill="#c0c0c0"/>
<rect x="642" y="624" width="1" height="86" fill="#c0c0c0"/>
<rect x="650" y="620" width="1" height="90" fill="#c0c0c0"/>
<rect x="658" y="619" width="1" height="91" fill="#c0c0c0"/>
<rect x="666" y="623" width="1" height="87" fill="#c0c0c0"/>
<rect x="674" y="624" width="1" height="86" fill="#c0c0c0"/>
<rect x="682" y="626" width="1" height="84" fill="#c0c0c0"/>
<rect x="690" y="628" width="1" height="82" fill="#c0c0c0"/>
<rect x="698" y="631" width="1" height="79" fill="#c0c0c0"/>
<rect x="706" y="646" width="1" height="64" fill="#c0c0c0"/>
<rect x="714" y="652" width="1" height="58" fill="#c0c0c0"/>
<rect x="722" y="664" width="1" height="46" fill="#c0c0c0"/>
<rect x="730" y="677" width="1" height="33" fill="#c0c0c0"/>
<rect x="738" y="679" width="1" height="31" fill="#c0c0c0"/>
<rect x="746" y="678" width="1" height="32" fill="#c0c0c0"/>
<rect x="754" y="676" width="1" height="34" fill="#c0c0c0"/>
<rect x="762" y="673" width="1" height="37" fill="#c0c0c0"/>
<rect x="770" y="670" width="1" height="40" fill="#c0c0c0"/>
<rect x="778" y="667" width="1" height="43" fill="#c0c0c0"/>
<rect x="786" y="655" width="1" height="55" fill="#c0c0c0"/>
<rect x="794" y="648" width="1" height="62" fill="#c0c0c0"/>
<rect x="802" y="644" width="1" height="66" fill="#c0c0c0"/>
<rect x="810" y="638" width="1" height="72" fill="#c0c0c0"/>
<rect x="818" y="635" width="1" height="75" fill="#c0c0c0"/>
<rect x="826" y="631" width="1" height="79" fill="#c0c0c0"/>
<rect x="834" y="622" width="1" height="88" fill="#c0c0c0"/>
<rect x="842" y="614" width="1" height="96" fill="#c0c0c0"/>
<rect x="850" y="608" width="1" height="102" fill="#c0c0c0"/>
<rect x="858" y="610" width="1" height="100" fill="#c0c0c0"/>
<rect x="866" y="610" width="1" height="100" fill="#c0c0c0"/>
<rect x="874" y="609" width="1" height="101" fill="#c0c0c0"/>
<rect x="882" y="614" width="1" height="96" fill="#c0c0c0"/>
<rect x="890" y="619" width="1" height="91" fill="#c0c0c0"/>
<rect x="898" y="621" width="1" height="89" fill="#c0c0c0"/>
<rect x="906" y="632" width="1" height="78" fill="#c0c0c0"/>
<rect x="914" y="644" width="1" height="66" fill="#c0c0c0"/>
<rect x="922" y="652" width="1" height="58" fill="#c0c0c0"/>
<rect x="930" y="654" width="1" height="56" fill="#c0c0c0"/>
<rect x="938" y="662" width="1" height="48" fill="#c0c0c0"/>
<rect x="946" y="674" width="1" height="36" fill="#c0c0c0"/>
<rect x="954" y="690" width="1" height="20" fill="#c0c0c0"/>
<rect x="962" y="697" width="1" height="13" fill="#c0c0c0"/>
<rect x="970" y="700" width="1" height="10" fill="#c0c0c0"/>
<rect x="986" y="709" width="1" height="5" fill="#c0c0c0"/>
<rect x="994" y="709" width="1" height="11" fill="#c0c0c0"/>
<rect x="1002" y="709" width="1" height="11" fill="#c0c0c0"/>
<rect x="1010" y="709" width="1" height="5" fill="#c0c0c0"/>
<rect x="1026" y="706" width="1" height="4" fill="#c0c0c0"/>
<rect x="1034" y="702" width="1" height="8" fill="#c0c0c0"/>
<rect x="1042" y="695" width="1" height="15" fill="#c0c0c0"/>
<rect x="1050" y="693" width="1" height="17" fill="#c0c0c0"/>
<rect x="1058" y="697" width="1" height="13" fill="#c0c0c0"/>
<rect x="1066" y="702" width="1" height="8" fill="#c0c0c0"/>
<rect x="1074" y="706" width="1" height="4" fill="#c0c0c0"/>
<rect x="1082" y="709" width="1" height="9" fill="#c0c0c0"/>
<rect x="1090" y="709" width="1" height="23" fill="#c0c0c0"/>
<rect x="1098" y="709" width="1" height="24" fill="#c0c0c0"/>
<rect x="1106" y="709" width="1" height="17" fill="#c0c0c0"/>
<rect x="1114" y="709" width="1" height="13" fill="#c0c0c0"/>
<rect x="1122" y="709" width="1" height="9" fill="#c0c0c0"/>
<rect x="1130" y="709" width="1" height="7" fill="#c0c0c0"/>
<rect x="1138" y="709" width="1" height="3" fill="#c0c0c0"/>
<rect x="1146" y="706" width="1" height="4" fill="#c0c0c0"/>
<rect x="1154" y="696" width="1" height="14" fill="#c0c0c0"/>
<rect x="1162" y="688" width="1" height="22" fill="#c0c0c0"/>
<rect x="1170" y="679" width="1" height="31" fill="#c0c0c0"/>
<rect x="1178" y="680" width="1" height="30" fill="#c0c0c0"/>
<rect x="1186" y="682" width="1" height="28" fill="#c0c0c0"/>
<rect x="1194" y="681" width="1" height="29" fill="#c0c0c0"/>
<rect x="1202" y="680" width="1" height="30" fill="#c0c0c0"/>
<rect x="1210" y="680" width="1" height="30" fill="#c0c0c0"/>
<rect x="1218" y="684" width="1" height="26" fill="#c0c0c0"/>
<rect x="1226" y="686" width="1" height="24" fill="#c0c0c0"/>
<rect x="1234" y="690" width="1" height="20" fill="#c0c0c0"/>
<rect x="1242" y="690" width="1" height="20" fill="#c0c0c0"/>
<rect x="1250" y="691" width="1" height="19" fill="#c0c0c0"/>
<rect x="1258" y="692" width="1" height="18" fill="#c0c0c0"/>
<rect x="1266" y="699" width="1" height="11" fill="#c0c0c0"/>
<rect x="1274" y="709" width="1" height="5" fill="#c0c0c0"/>
<rect x="1282" y="709" width="1" height="14" fill="#c0c0c0"/>
<rect x="1290" y="709" width="1" height="20" fill="#c0c0c0"/>
<rect x="1298" y="709" width="1" height="20" fill="#c0c0c0"/>
<rect x="1306" y="709" width="1" height="21" fill="#c0c0c0"/>
<rect x="1314" y="709" width="1" height="21" fill="#c0c0c0"/>
<rect x="1322" y="709" width="1" height="25" fill="#c0c0c0"/>
<rect x="1330" y="709" width="1" height="25" fill="#c0c0c0"/>
<rect x="1338" y="709" width="1" height="27" fill="#c0c0c0"/>
<rect x="1346" y="709" width="1" height="29" fill="#c0c0c0"/>
<rect x="1354" y="709" width="1" height="30" fill="#c0c0c0"/>
<rect x="1362" y="709" width="1" height="29" fill="#c0c0c0"/>
<rect x="1370" y="709" width="1" height="30" fill="#c0c0c0"/>
<rect x="1378" y="709" width="1" height="27" fill="#c0c0c0"/>
<rect x="1386" y="709" width="1" height="21" fill="#c0c0c0"/>
<rect x="1394" y="709" width="1" height="12" fill="#c0c0c0"/>
<rect x="1402" y="709" width="1" height="7" fill="#c0c0c0"/>
<rect x="1410" y="709" width="1" height="8" fill="#c0c0c0"/>
</g>
<polyline clip-path="url(#cd)" points="-5.5,691.2 2.5,690.1 10.5,689.0 18.5,688.3 26.5,688.3 34.5,688.3 42.5,689.0 50.5,690.1 58.5,690.7 66.5,691.4 74.5,691.9 82.5,692.3 90.5,695.0 98.5,696.0 106.5,697.7 114.5,702.3 122.5,705.0 130.5,706.0 138.5,706.5 146.5,706.5 154.5,703.2 162.5,697.7 170.5,693.2 178.5,685.0 186.5,676.9 194.5,665.0 202.5,652.4 210.5,641.5 218.5,632.4 226.5,623.4 234.5,615.0 242.5,609.8 250.5,605.2 258.5,602.0 266.5,601.2 274.5,599.8 282.5,598.9 290.5,598.5 298.5,598.3 306.5,597.4 314.5,596.1 322.5,594.9 330.5,593.4 338.5,592.5 346.5,592.5 354.5,592.5 362.5,594.0 370.5,596.1 378.5,600.1 386.5,604.3 394.5,610.7 402.5,616.1 410.5,621.5 418.5,627.9 426.5,632.4 434.5,637.9 442.5,641.5 450.5,645.1 458.5,649.7 466.5,652.5 474.5,656.0 482.5,658.7 490.5,662.4 498.5,666.5 506.5,669.1 514.5,670.2 522.5,670.5 530.5,669.6 538.5,668.3 546.5,665.4 554.5,664.2 562.5,662.9 570.5,659.6 578.5,656.0 586.5,653.8 594.5,651.5 602.5,650.2 610.5,647.8 618.5,646.0 626.5,641.5 634.5,637.9 642.5,634.2 650.5,631.5 658.5,628.4 666.5,626.1 674.5,623.4 682.5,622.4 690.5,621.5 698.5,622.6 706.5,624.2 714.5,627.0 722.5,635.1 730.5,640.6 738.5,646.6 746.5,651.5 754.5,657.8 762.5,662.4 770.5,666.9 778.5,669.6 786.5,670.2 794.5,666.9 802.5,664.2 810.5,661.1 818.5,656.0 826.5,650.6 834.5,645.1 842.5,638.8 850.5,632.4 858.5,627.3 866.5,623.4 874.5,619.4 882.5,616.1 890.5,614.3 898.5,613.4 906.5,614.3 914.5,618.8 922.5,624.3 930.5,628.0 938.5,632.0 946.5,639.7 954.5,647.8 962.5,656.0 970.5,665.1 978.5,674.2 986.5,683.2 994.5,691.4 1002.5,699.6 1010.5,705.0 1018.5,708.6 1026.5,710.1 1034.5,710.4 1042.5,709.5 1050.5,707.2 1058.5,705.0 1066.5,703.2 1074.5,702.3 1082.5,705.0 1090.5,707.7 1098.5,710.1 1106.5,714.1 1114.5,717.7 1122.5,719.5 1130.5,720.4 1138.5,719.9 1146.5,717.7 1154.5,715.0 1162.5,711.0 1170.5,708.3 1178.5,701.4 1186.5,697.4 1194.5,694.1 1202.5,689.0 1210.5,685.0 1218.5,683.2 1226.5,681.4 1234.5,682.3 1242.5,683.6 1250.5,684.1 1258.5,685.4 1266.5,686.5 1274.5,691.4 1282.5,695.9 1290.5,701.4 1298.5,707.2 1306.5,710.4 1314.5,715.0 1322.5,720.4 1330.5,724.6 1338.5,728.6 1346.5,731.8 1354.5,734.0 1362.5,734.4 1370.5,734.9 1378.5,736.2 1386.5,735.8 1394.5,734.0 1402.5,733.1 1410.5,731.3" fill="none" stroke="#ff0000" stroke-width="1" stroke-dasharray="3 3" shape-rendering="crispEdges"/>
<g shape-rendering="crispEdges" fill="none" stroke="#c0c0c0" stroke-dasharray="3 3">
<line x1="1" y1="785.5" x2="1681" y2="785.5"/>
<line x1="1" y1="836.5" x2="1681" y2="836.5"/>
<line x1="1" y1="897.5" x2="1681" y2="897.5"/>
</g>
<polyline clip-path="url(#cr)" points="-5.5,831.1 2.5,829.2 10.5,827.3 18.5,825.4 26.5,823.6 34.5,822.6 42.5,828.3 50.5,827.3 58.5,827.7 66.5,830.7 74.5,840.9 82.5,843.4 90.5,857.9 98.5,846.6 106.5,853.0 114.5,856.8 122.5,831.1 130.5,816.4 138.5,811.3 146.5,802.4 154.5,797.1 162.5,793.0 170.5,781.6 178.5,784.8 186.5,781.6 194.5,784.5 202.5,781.6 210.5,780.5 218.5,775.8 226.5,785.8 234.5,801.3 242.5,808.1 250.5,803.3 258.5,803.0 266.5,798.6 274.5,789.2 282.5,801.3 290.5,797.5 298.5,792.4 306.5,792.4 314.5,801.3 322.5,797.5 330.5,801.8 338.5,805.2 346.5,803.3 354.5,801.5 362.5,822.0 370.5,820.3 378.5,816.4 386.5,814.1 394.5,821.3 402.5,819.4 410.5,820.3 418.5,815.4 426.5,817.3 434.5,818.3 442.5,820.2 450.5,816.4 458.5,830.2 466.5,829.2 474.5,825.4 482.5,825.1 490.5,824.5 498.5,824.5 506.5,814.8 514.5,799.5 522.5,800.5 530.5,799.4 538.5,797.5 546.5,824.1 554.5,825.4 562.5,814.5 570.5,805.6 578.5,798.1 586.5,797.5 594.5,804.3 602.5,802.4 610.5,796.7 618.5,789.2 626.5,809.4 634.5,817.5 642.5,813.2 650.5,805.2 658.5,809.4 666.5,814.5 674.5,813.2 682.5,811.3 690.5,811.3 698.5,812.6 706.5,841.5 714.5,829.6 722.5,841.5 730.5,846.2 738.5,831.5 746.5,825.4 754.5,823.8 762.5,822.7 770.5,820.3 778.5,818.3 786.5,805.2 794.5,810.3 802.5,811.3 810.5,806.6 818.5,809.4 826.5,806.6 834.5,798.1 842.5,796.5 850.5,796.5 858.5,810.3 866.5,805.6 874.5,804.3 882.5,815.1 890.5,816.4 898.5,811.8 906.5,831.1 914.5,835.8 922.5,831.5 930.5,823.6 938.5,834.9 946.5,844.3 954.5,853.4 962.5,842.1 970.5,838.7 978.5,849.1 986.5,844.3 994.5,846.2 1002.5,838.7 1010.5,832.0 1018.5,828.3 1026.5,830.2 1034.5,829.2 1042.5,821.3 1050.5,829.2 1058.5,839.0 1066.5,843.4 1074.5,841.5 1082.5,855.3 1090.5,861.0 1098.5,842.4 1106.5,832.6 1114.5,834.5 1122.5,833.4 1130.5,835.8 1138.5,832.1 1146.5,824.5 1154.5,820.7 1162.5,818.3 1170.5,816.4 1178.5,830.2 1186.5,833.4 1194.5,827.7 1202.5,826.4 1210.5,827.7 1218.5,835.3 1226.5,832.6 1234.5,838.3 1242.5,830.5 1250.5,831.3 1258.5,834.9 1266.5,843.4 1274.5,862.3 1282.5,852.3 1290.5,852.3 1298.5,843.4 1306.5,846.2 1314.5,841.5 1322.5,849.6 1330.5,848.5 1338.5,847.2 1346.5,851.0 1354.5,847.2 1362.5,842.4 1370.5,851.5 1378.5,841.5 1386.5,831.5 1394.5,830.2 1402.5,830.2 1410.5,834.5" fill="none" stroke="#1e90ff" stroke-width="1" shape-rendering="crispEdges"/>
<g shape-rendering="crispEdges" fill="#000">
<rect x="1682" y="44" width="3" height="1"/>
<rect x="1682" y="77" width="3" height="1"/>
<rect x="1682" y="110" width="3" height="1"/>
<rect x="1682" y="176" width="3" height="1"/>
<rect x="1682" y="209" width="3" height="1"/>
<rect x="1682" y="243" width="3" height="1"/>
<rect x="1682" y="275" width="3" height="1"/>
<rect x="1682" y="308" width="3" height="1"/>
<rect x="1682" y="342" width="3" height="1"/>
<rect x="1682" y="374" width="3" height="1"/>
<rect x="1682" y="408" width="3" height="1"/>
<rect x="1682" y="441" width="3" height="1"/>
<rect x="1682" y="473" width="3" height="1"/>
<rect x="1682" y="507" width="3" height="1"/>
<rect x="1682" y="540" width="3" height="1"/>
<rect x="1682" y="572" width="3" height="1"/>
<rect x="1682" y="579" width="3" height="1"/>
<rect x="1682" y="709" width="3" height="1"/>
<rect x="1682" y="746" width="3" height="1"/>
<rect x="1682" y="751" width="3" height="1"/>
<rect x="1682" y="785" width="3" height="1"/>
<rect x="1682" y="836" width="3" height="1"/>
<rect x="1682" y="897" width="3" height="1"/>
<rect x="1682" y="921" width="3" height="1"/>
<rect x="58" y="924" width="1" height="3"/>
<rect x="122" y="924" width="1" height="3"/>
<rect x="186" y="924" width="1" height="3"/>
<rect x="250" y="924" width="1" height="3"/>
<rect x="314" y="924" width="1" height="3"/>
<rect x="378" y="924" width="1" height="3"/>
<rect x="442" y="924" width="1" height="3"/>
<rect x="506" y="924" width="1" height="3"/>
<rect x="570" y="924" width="1" height="3"/>
<rect x="634" y="924" width="1" height="3"/>
<rect x="698" y="924" width="1" height="3"/>
<rect x="762" y="924" width="1" height="3"/>
<rect x="826" y="924" width="1" height="3"/>
<rect x="890" y="924" width="1" height="3"/>
<rect x="954" y="924" width="1" height="3"/>
<rect x="1018" y="924" width="1" height="3"/>
<rect x="1082" y="924" width="1" height="3"/>
<rect x="1146" y="924" width="1" height="3"/>
<rect x="1210" y="924" width="1" height="3"/>
<rect x="1274" y="924" width="1" height="3"/>
<rect x="1338" y="924" width="1" height="3"/>
<rect x="1402" y="924" width="1" height="3"/>
</g>
<text x="1687" y="48" textLength="34.70" lengthAdjust="spacingAndGlyphs" font-family="'Liberation Sans', 'DejaVu Sans', sans-serif" font-size="10.0px" fill="#000">30776.0</text>
<text x="1687" y="81" textLength="34.70" lengthAdjust="spacingAndGlyphs" font-family="'Liberation Sans', 'DejaVu Sans', sans-serif" font-size="10.0px" fill="#000">30281.0</text>
<text x="1687" y="114" textLength="34.70" lengthAdjust="spacingAndGlyphs" font-family="'Liberation Sans', 'DejaVu Sans', sans-serif" font-size="10.0px" fill="#000">29771.0</text>
<text x="1687" y="180" textLength="34.70" lengthAdjust="spacingAndGlyphs" font-family="'Liberation Sans', 'DejaVu Sans', sans-serif" font-size="10.0px" fill="#000">28766.0</text>
<text x="1687" y="213" textLength="34.70" lengthAdjust="spacingAndGlyphs" font-family="'Liberation Sans', 'DejaVu Sans', sans-serif" font-size="10.0px" fill="#000">28256.0</text>
<text x="1687" y="247" textLength="34.70" lengthAdjust="spacingAndGlyphs" font-family="'Liberation Sans', 'DejaVu Sans', sans-serif" font-size="10.0px" fill="#000">27746.0</text>
<text x="1687" y="279" textLength="34.70" lengthAdjust="spacingAndGlyphs" font-family="'Liberation Sans', 'DejaVu Sans', sans-serif" font-size="10.0px" fill="#000">27251.0</text>
<text x="1687" y="312" textLength="34.70" lengthAdjust="spacingAndGlyphs" font-family="'Liberation Sans', 'DejaVu Sans', sans-serif" font-size="10.0px" fill="#000">26741.0</text>
<text x="1687" y="346" textLength="34.70" lengthAdjust="spacingAndGlyphs" font-family="'Liberation Sans', 'DejaVu Sans', sans-serif" font-size="10.0px" fill="#000">26231.0</text>
<text x="1687" y="378" textLength="34.70" lengthAdjust="spacingAndGlyphs" font-family="'Liberation Sans', 'DejaVu Sans', sans-serif" font-size="10.0px" fill="#000">25736.0</text>
<text x="1687" y="412" textLength="34.70" lengthAdjust="spacingAndGlyphs" font-family="'Liberation Sans', 'DejaVu Sans', sans-serif" font-size="10.0px" fill="#000">25226.0</text>
<text x="1687" y="445" textLength="34.70" lengthAdjust="spacingAndGlyphs" font-family="'Liberation Sans', 'DejaVu Sans', sans-serif" font-size="10.0px" fill="#000">24716.0</text>
<text x="1687" y="477" textLength="34.70" lengthAdjust="spacingAndGlyphs" font-family="'Liberation Sans', 'DejaVu Sans', sans-serif" font-size="10.0px" fill="#000">24221.0</text>
<text x="1687" y="511" textLength="33.99" lengthAdjust="spacingAndGlyphs" font-family="'Liberation Sans', 'DejaVu Sans', sans-serif" font-size="10.0px" fill="#000">23711.0</text>
<text x="1687" y="544" textLength="34.70" lengthAdjust="spacingAndGlyphs" font-family="'Liberation Sans', 'DejaVu Sans', sans-serif" font-size="10.0px" fill="#000">23201.0</text>
<text x="1687" y="576" textLength="34.70" lengthAdjust="spacingAndGlyphs" font-family="'Liberation Sans', 'DejaVu Sans', sans-serif" font-size="10.0px" fill="#000">22706.0</text>
<text x="1687" y="588" textLength="29.36" lengthAdjust="spacingAndGlyphs" font-family="'Liberation Sans', 'DejaVu Sans', sans-serif" font-size="10.0px" fill="#000">721.03</text>
<text x="1687" y="713" textLength="18.68" lengthAdjust="spacingAndGlyphs" font-family="'Liberation Sans', 'DejaVu Sans', sans-serif" font-size="10.0px" fill="#000">0.00</text>
<text x="1687" y="744" textLength="19.21" lengthAdjust="spacingAndGlyphs" font-family="'Liberation Sans', 'DejaVu Sans', sans-serif" font-size="10.0px" fill="#000">-210</text>
<text x="1687" y="760" textLength="16.02" lengthAdjust="spacingAndGlyphs" font-family="'Liberation Sans', 'DejaVu Sans', sans-serif" font-size="10.0px" fill="#000">100</text>
<text x="1687" y="789" textLength="10.68" lengthAdjust="spacingAndGlyphs" font-family="'Liberation Sans', 'DejaVu Sans', sans-serif" font-size="10.0px" fill="#000">80</text>
<text x="1687" y="840" textLength="10.68" lengthAdjust="spacingAndGlyphs" font-family="'Liberation Sans', 'DejaVu Sans', sans-serif" font-size="10.0px" fill="#000">50</text>
<text x="1687" y="901" textLength="10.68" lengthAdjust="spacingAndGlyphs" font-family="'Liberation Sans', 'DejaVu Sans', sans-serif" font-size="10.0px" fill="#000">15</text>
<text x="1687" y="920" textLength="5.34" lengthAdjust="spacingAndGlyphs" font-family="'Liberation Sans', 'DejaVu Sans', sans-serif" font-size="10.0px" fill="#000">0</text>
<rect x="1683" y="94" width="41" height="11" fill="#ff0000" shape-rendering="crispEdges"/>
<text x="1686.5" y="103" textLength="34.70" lengthAdjust="spacingAndGlyphs" font-family="'Liberation Sans', 'DejaVu Sans', sans-serif" font-size="10.0px" fill="#fff">29918.5</text>
<rect x="1683" y="113" width="41" height="11" fill="#ff0000" shape-rendering="crispEdges"/>
<text x="1686.5" y="122" textLength="34.70" lengthAdjust="spacingAndGlyphs" font-family="'Liberation Sans', 'DejaVu Sans', sans-serif" font-size="10.0px" fill="#fff">29628.2</text>
<rect x="1683" y="138" width="41" height="12" fill="#000" shape-rendering="crispEdges"/>
<rect x="1683" y="139" width="41" height="11" fill="#32cd32" shape-rendering="crispEdges"/>
<text x="1686.5" y="148" textLength="34.70" lengthAdjust="spacingAndGlyphs" font-family="'Liberation Sans', 'DejaVu Sans', sans-serif" font-size="10.0px" fill="#fff">29231.0</text>
<rect x="1683" y="160" width="41" height="11" fill="#0000ff" shape-rendering="crispEdges"/>
<text x="1686.5" y="169" textLength="34.70" lengthAdjust="spacingAndGlyphs" font-family="'Liberation Sans', 'DejaVu Sans', sans-serif" font-size="10.0px" fill="#fff">28910.1</text>
<rect x="1683" y="183" width="41" height="11" fill="#0000ff" shape-rendering="crispEdges"/>
<text x="1686.5" y="192" textLength="34.70" lengthAdjust="spacingAndGlyphs" font-family="'Liberation Sans', 'DejaVu Sans', sans-serif" font-size="10.0px" fill="#fff">28558.7</text>
<text x="-7" y="935.5" textLength="52.30" lengthAdjust="spacingAndGlyphs" font-family="'Liberation Sans', 'DejaVu Sans', sans-serif" font-size="10.0px" fill="#000">14 Oct 2020</text>
<text x="57" y="935.5" textLength="52.30" lengthAdjust="spacingAndGlyphs" font-family="'Liberation Sans', 'DejaVu Sans', sans-serif" font-size="10.0px" fill="#000">23 Oct 2020</text>
<text x="121" y="935.5" textLength="49.10" lengthAdjust="spacingAndGlyphs" font-family="'Liberation Sans', 'DejaVu Sans', sans-serif" font-size="10.0px" fill="#000">2 Nov 2020</text>
<text x="185" y="935.5" textLength="53.73" lengthAdjust="spacingAndGlyphs" font-family="'Liberation Sans', 'DejaVu Sans', sans-serif" font-size="10.0px" fill="#000">11 Nov 2020</text>
<text x="249" y="935.5" textLength="54.44" lengthAdjust="spacingAndGlyphs" font-family="'Liberation Sans', 'DejaVu Sans', sans-serif" font-size="10.0px" fill="#000">20 Nov 2020</text>
<text x="313" y="935.5" textLength="54.44" lengthAdjust="spacingAndGlyphs" font-family="'Liberation Sans', 'DejaVu Sans', sans-serif" font-size="10.0px" fill="#000">30 Nov 2020</text>
<text x="377" y="935.5" textLength="49.10" lengthAdjust="spacingAndGlyphs" font-family="'Liberation Sans', 'DejaVu Sans', sans-serif" font-size="10.0px" fill="#000">9 Dec 2020</text>
<text x="441" y="935.5" textLength="54.44" lengthAdjust="spacingAndGlyphs" font-family="'Liberation Sans', 'DejaVu Sans', sans-serif" font-size="10.0px" fill="#000">18 Dec 2020</text>
<text x="505" y="935.5" textLength="54.44" lengthAdjust="spacingAndGlyphs" font-family="'Liberation Sans', 'DejaVu Sans', sans-serif" font-size="10.0px" fill="#000">28 Dec 2020</text>
<text x="569" y="935.5" textLength="47.51" lengthAdjust="spacingAndGlyphs" font-family="'Liberation Sans', 'DejaVu Sans', sans-serif" font-size="10.0px" fill="#000">7 Jan 2021</text>
<text x="633" y="935.5" textLength="52.85" lengthAdjust="spacingAndGlyphs" font-family="'Liberation Sans', 'DejaVu Sans', sans-serif" font-size="10.0px" fill="#000">17 Jan 2021</text>
<text x="697" y="935.5" textLength="52.85" lengthAdjust="spacingAndGlyphs" font-family="'Liberation Sans', 'DejaVu Sans', sans-serif" font-size="10.0px" fill="#000">26 Jan 2021</text>
<text x="761" y="935.5" textLength="48.57" lengthAdjust="spacingAndGlyphs" font-family="'Liberation Sans', 'DejaVu Sans', sans-serif" font-size="10.0px" fill="#000">4 Feb 2021</text>
<text x="825" y="935.5" textLength="53.91" lengthAdjust="spacingAndGlyphs" font-family="'Liberation Sans', 'DejaVu Sans', sans-serif" font-size="10.0px" fill="#000">14 Feb 2021</text>
<text x="889" y="935.5" textLength="53.91" lengthAdjust="spacingAndGlyphs" font-family="'Liberation Sans', 'DejaVu Sans', sans-serif" font-size="10.0px" fill="#000">23 Feb 2021</text>
<text x="953" y="935.5" textLength="48.56" lengthAdjust="spacingAndGlyphs" font-family="'Liberation Sans', 'DejaVu Sans', sans-serif" font-size="10.0px" fill="#000">4 Mar 2021</text>
<text x="1017" y="935.5" textLength="53.90" lengthAdjust="spacingAndGlyphs" font-family="'Liberation Sans', 'DejaVu Sans', sans-serif" font-size="10.0px" fill="#000">14 Mar 2021</text>
<text x="1081" y="935.5" textLength="53.90" lengthAdjust="spacingAndGlyphs" font-family="'Liberation Sans', 'DejaVu Sans', sans-serif" font-size="10.0px" fill="#000">23 Mar 2021</text>
<text x="1145" y="935.5" textLength="46.44" lengthAdjust="spacingAndGlyphs" font-family="'Liberation Sans', 'DejaVu Sans', sans-serif" font-size="10.0px" fill="#000">1 Apr 2021</text>
<text x="1209" y="935.5" textLength="51.07" lengthAdjust="spacingAndGlyphs" font-family="'Liberation Sans', 'DejaVu Sans', sans-serif" font-size="10.0px" fill="#000">11 Apr 2021</text>
<text x="1273" y="935.5" textLength="51.78" lengthAdjust="spacingAndGlyphs" font-family="'Liberation Sans', 'DejaVu Sans', sans-serif" font-size="10.0px" fill="#000">20 Apr 2021</text>
<text x="1337" y="935.5" textLength="51.78" lengthAdjust="spacingAndGlyphs" font-family="'Liberation Sans', 'DejaVu Sans', sans-serif" font-size="10.0px" fill="#000">29 Apr 2021</text>
<text x="1401" y="935.5" textLength="50.17" lengthAdjust="spacingAndGlyphs" font-family="'Liberation Sans', 'DejaVu Sans', sans-serif" font-size="10.0px" fill="#000">9 May 2021</text>
<text x="9" y="34" textLength="207" lengthAdjust="spacingAndGlyphs" font-family="'Liberation Sans', 'DejaVu Sans', sans-serif" font-size="10px" fill="#000">JPN225-,Daily&#160;&#160;29367.5 29685.0 29220.0 29262.5</text>
<polygon points="0,29 0,33.5 4,33.5" fill="#000"/>
<text x="0" y="590" textLength="127" lengthAdjust="spacingAndGlyphs" font-family="'Liberation Sans', 'DejaVu Sans', sans-serif" font-size="10px" fill="#000">MACD(12,26,9) -42.09 -122.65</text>
<text x="-1" y="762" textLength="66" lengthAdjust="spacingAndGlyphs" font-family="'Liberation Sans', 'DejaVu Sans', sans-serif" font-size="10px" fill="#000">RSI(14) 50.8501</text>
<rect x="1727" y="19" width="1" height="918" fill="#e3e3e3"/>
<polygon points="1422,23 1431,23 1426.5,28" fill="#c4c4c4"/>
<g clip-path="url(#cm)">
<rect x="771.5" y="40.5" width="61" height="18" fill="#fff" stroke="#ff0000" shape-rendering="crispEdges"/>
<rect x="833" y="49" width="9" height="1" fill="#ff0000" shape-rendering="crispEdges"/>
<text x="773.5" y="55.5" font-family="'Liberation Sans', 'DejaVu Sans', sans-serif" font-size="16px" fill="#ff0000">30697.3</text>
<rect x="979.5" y="67.5" width="61" height="18" fill="#fff" stroke="#ff0000" shape-rendering="crispEdges"/>
<rect x="1041" y="76" width="9" height="1" fill="#ff0000" shape-rendering="crispEdges"/>
<text x="981.5" y="82.5" font-family="'Liberation Sans', 'DejaVu Sans', sans-serif" font-size="16px" fill="#ff0000">30295.6</text>
<rect x="1099.5" y="69.5" width="61" height="18" fill="#fff" stroke="#ff0000" shape-rendering="crispEdges"/>
<rect x="1161" y="78" width="9" height="1" fill="#ff0000" shape-rendering="crispEdges"/>
<text x="1101.5" y="84.5" font-family="'Liberation Sans', 'DejaVu Sans', sans-serif" font-size="16px" fill="#ff0000">30263.4</text>
<rect x="891.5" y="199.5" width="61" height="18" fill="#fff" stroke="#ff0000" shape-rendering="crispEdges"/>
<rect x="953" y="208" width="9" height="1" fill="#ff0000" shape-rendering="crispEdges"/>
<text x="893.5" y="214.5" font-family="'Liberation Sans', 'DejaVu Sans', sans-serif" font-size="16px" fill="#ff0000">28271.1</text>
<rect x="1019.5" y="211.5" width="61" height="18" fill="#fff" stroke="#ff0000" shape-rendering="crispEdges"/>
<rect x="1081" y="220" width="9" height="1" fill="#ff0000" shape-rendering="crispEdges"/>
<text x="1021.5" y="226.5" font-family="'Liberation Sans', 'DejaVu Sans', sans-serif" font-size="16px" fill="#ff0000">28094.4</text>
<rect x="1211.5" y="192.5" width="61" height="18" fill="#fff" stroke="#ff0000" shape-rendering="crispEdges"/>
<rect x="1273" y="201" width="9" height="1" fill="#ff0000" shape-rendering="crispEdges"/>
<text x="1213.5" y="207.5" font-family="'Liberation Sans', 'DejaVu Sans', sans-serif" font-size="16px" fill="#ff0000">28375.3</text>
<rect x="1163.5" y="136.5" width="61" height="18" fill="#fff" stroke="#ff0000" shape-rendering="crispEdges"/>
<rect x="1225" y="145" width="9" height="1" fill="#ff0000" shape-rendering="crispEdges"/>
<text x="1165.5" y="151.5" font-family="'Liberation Sans', 'DejaVu Sans', sans-serif" font-size="16px" fill="#ff0000">29231.0</text>
<rect x="1324" y="146" width="154" height="6" fill="#00ee00" shape-rendering="crispEdges"/>
<text x="1436" y="183" font-family="'Noto Sans CJK SC', 'WenQuanYi Zen Hei', sans-serif" font-weight="300" font-size="21px" fill="#00ff00">多空转折点</text>
<g fill="#ff0000" stroke="none" shape-rendering="crispEdges">
<polyline points="1087,220 1169,81" fill="none" stroke="#ff0000" stroke-width="3.6"/>
<polygon points="1173,74.5 1171.2,87.9 1162.6,82.7"/>
<polyline points="1173.5,75.5 1291,198" fill="none" stroke="#ff0000" stroke-width="2.9"/>
<polygon points="1296.5,203 1292.2,192.2 1285.3,199"/>
<polyline points="1295,201 1408,126" fill="none" stroke="#ff0000" stroke-width="3.6"/>
<polygon points="1406,123.5 1409,122 1410,120 1418,119.5 1419,121 1419.5,129 1422,126 1423,128 1422,132 1421,136 1418.5,139 1415.5,135 1414.5,131 1413.5,130 1411,130.5 1409,129 1408,126 1406,125.5"/>
</g>
</g>
<g clip-path="url(#cd)" shape-rendering="crispEdges">
<polyline points="1346,747.5 1401,720" fill="none" stroke="#ff0000" stroke-width="4.5"/>
<polygon fill="#ff0000" points="1397.5,716.5 1404,714 1411.5,715 1402.5,724"/>
</g>
</svg>
<svg width="1728" height="22" viewBox="0 0 1728 22" style="position:absolute;left:0;top:0">
<defs><pattern id="chk" width="2" height="2" patternUnits="userSpaceOnUse"><rect width="2" height="2" fill="#ececec"/><rect width="1" height="1" fill="#fff"/><rect x="1" y="1" width="1" height="1" fill="#fff"/></pattern></defs>
<rect x="0" y="0" width="1728" height="20" fill="#f0f0f0"/>
<rect x="0" y="17" width="1728" height="1" fill="#f6f6f6"/>
<rect x="0" y="18" width="1727" height="1" fill="#8c8c8c"/>
<rect x="0" y="19" width="1727" height="1" fill="#686868"/>
<rect x="0" y="20" width="1728" height="2" fill="#ffffff"/>
<rect x="42" y="0" width="1" height="16" fill="#a0a0a0"/>
<rect x="278" y="0" width="1" height="16" fill="#a0a0a0"/>
<rect x="316" y="0" width="1" height="16" fill="#a0a0a0"/>
<rect x="373" y="0" width="1" height="16" fill="#a0a0a0"/>
<rect x="463" y="0" width="1" height="16" fill="#a0a0a0"/>
<rect x="468" y="0" width="1" height="16" fill="#a0a0a0"/>
<rect x="496" y="0" width="1" height="16" fill="#a0a0a0"/>
<rect x="525" y="0" width="1" height="16" fill="#a0a0a0"/>
<rect x="646" y="0" width="1" height="16" fill="#a0a0a0"/>
<rect x="656" y="0" width="1" height="16" fill="#a0a0a0"/>
<rect x="713" y="0" width="1" height="16" fill="#a0a0a0"/>
<rect x="952" y="0" width="1" height="16" fill="#a0a0a0"/>
<rect x="1130" y="0" width="1" height="16" fill="#a0a0a0"/>
<rect x="1213" y="0" width="1" height="16" fill="#a0a0a0"/>
<rect x="282" y="1" width="3" height="1" fill="#9a9a9a"/>
<rect x="282" y="3" width="3" height="1" fill="#9a9a9a"/>
<rect x="282" y="5" width="3" height="1" fill="#9a9a9a"/>
<rect x="282" y="7" width="3" height="1" fill="#9a9a9a"/>
<rect x="282" y="9" width="3" height="1" fill="#9a9a9a"/>
<rect x="282" y="11" width="3" height="1" fill="#9a9a9a"/>
<rect x="282" y="13" width="3" height="1" fill="#9a9a9a"/>
<rect x="282" y="15" width="3" height="1" fill="#9a9a9a"/>
<rect x="650" y="1" width="3" height="1" fill="#9a9a9a"/>
<rect x="650" y="3" width="3" height="1" fill="#9a9a9a"/>
<rect x="650" y="5" width="3" height="1" fill="#9a9a9a"/>
<rect x="650" y="7" width="3" height="1" fill="#9a9a9a"/>
<rect x="650" y="9" width="3" height="1" fill="#9a9a9a"/>
<rect x="650" y="11" width="3" height="1" fill="#9a9a9a"/>
<rect x="650" y="13" width="3" height="1" fill="#9a9a9a"/>
<rect x="650" y="15" width="3" height="1" fill="#9a9a9a"/>
<rect x="956" y="1" width="3" height="1" fill="#9a9a9a"/>
<rect x="956" y="3" width="3" height="1" fill="#9a9a9a"/>
<rect x="956" y="5" width="3" height="1" fill="#9a9a9a"/>
<rect x="956" y="7" width="3" height="1" fill="#9a9a9a"/>
<rect x="956" y="9" width="3" height="1" fill="#9a9a9a"/>
<rect x="956" y="11" width="3" height="1" fill="#9a9a9a"/>
<rect x="956" y="13" width="3" height="1" fill="#9a9a9a"/>
<rect x="956" y="15" width="3" height="1" fill="#9a9a9a"/>
<rect x="317" y="0" width="24" height="16" fill="url(#chk)"/><rect x="317" y="16" width="25" height="1" fill="#fff"/><rect x="341" y="0" width="1" height="16" fill="#fff"/>
<rect x="469" y="0" width="24" height="16" fill="url(#chk)"/><rect x="469" y="16" width="25" height="1" fill="#fff"/><rect x="493" y="0" width="1" height="16" fill="#fff"/>
<rect x="497" y="0" width="24" height="16" fill="url(#chk)"/><rect x="497" y="16" width="25" height="1" fill="#fff"/><rect x="521" y="0" width="1" height="16" fill="#fff"/>
<rect x="657" y="0" width="24" height="16" fill="url(#chk)"/><rect x="657" y="16" width="25" height="1" fill="#fff"/><rect x="681" y="0" width="1" height="16" fill="#fff"/>
<rect x="1131" y="0" width="25" height="16" fill="url(#chk)"/><rect x="1131" y="16" width="26" height="1" fill="#fff"/><rect x="1156" y="0" width="1" height="16" fill="#fff"/>
<rect x="-6" y="-3" width="10.5" height="15.5" fill="#fff" stroke="#3a78c8" stroke-width="1"/>
<rect x="0" y="1.5" width="3.5" height="1" fill="#b8cff0"/>
<rect x="0" y="3.5" width="3.5" height="1" fill="#b8cff0"/>
<rect x="0" y="5.5" width="3.5" height="1" fill="#b8cff0"/>
<rect x="0" y="7.5" width="3.5" height="1" fill="#b8cff0"/>
<rect x="17.5" y="-2" width="12" height="13.5" fill="#fbfbf8" stroke="#a89f88"/>
<circle cx="25.5" cy="7.3" r="4.8" fill="#e2f2fa" stroke="#5b8fd8" stroke-width="1.2"/>
<rect x="24" y="3.5" width="2" height="5" fill="#9fb4c4"/>
<line x1="29.5" y1="11" x2="33.5" y2="15" stroke="#c89a18" stroke-width="2.6"/>
<rect x="52.5" y="-2" width="11" height="13.5" fill="#fff" stroke="#707070"/>
<rect x="54" y="4" width="5" height="1" fill="#808080"/>
<rect x="54" y="6" width="5" height="1" fill="#808080"/>
<rect x="54" y="8" width="5" height="1" fill="#808080"/>
<path d="M60,4.5h4v3.5h3.5v4h-3.5v3.5h-4v-3.5h-3.5v-4h3.5z" fill="#2ee02e" stroke="#108010" stroke-width="0.8"/>
<text x="71" y="8.6" font-family="'Liberation Sans','Noto Sans CJK SC','WenQuanYi Zen Hei',sans-serif" font-size="12px" fill="#000">新订单</text>
<path d="M121,7 L127,0.5 L134.5,6 L130,13 Z" fill="#e2b22a" stroke="#9a6a10" stroke-width="0.8"/>
<path d="M121,7 L130,13 L130,14.5 L121,8.5 Z" fill="#b07a18"/>
<rect x="149" y="-2" width="9" height="10" fill="#3d8ce0" stroke="#2a5faa" stroke-width="0.8"/>
<rect x="151" y="1" width="5" height="1.5" fill="#cfe6ff"/>
<path d="M148,13.5 q-1.5,-4 3,-4 q1.5,-3 5,-1.5 q3.5,-1.5 5,2 q2.5,0.5 1,3.5 z" fill="#e8eef6" stroke="#6680a8" stroke-width="0.9"/>
<circle cx="183" cy="6" r="7" fill="none" stroke="#7aa0d8" stroke-width="0.9"/>
<circle cx="183" cy="6" r="4.5" fill="none" stroke="#5b85d0" stroke-width="0.9"/>
<circle cx="183" cy="6" r="1.6" fill="#2a5fc0"/>
<path d="M183,6 L183,13 A7,7 0 0 0 190,6" fill="none" stroke="#3aa840" stroke-width="1.3"/>
<path d="M203,4 L216,4 L211,13 L207,13 Z" fill="#f2d040" stroke="#b09020" stroke-width="0.6"/>
<ellipse cx="209.5" cy="2" rx="7" ry="3.5" fill="#4aa8e0" stroke="#2a78b0" stroke-width="0.6"/>
<circle cx="214.5" cy="10" r="3.6" fill="#d81e10"/>
<rect x="213.2" y="8.7" width="2.6" height="2.6" fill="#fff"/>
<text x="224" y="8.6" font-family="'Liberation Sans','Noto Sans CJK SC','WenQuanYi Zen Hei',sans-serif" font-size="12px" fill="#000">自动交易</text>
<path d="M296.5,0 V14 M294,12.5 H308" stroke="#404040" stroke-width="1.2" fill="none"/><path d="M308,11 l2.5,1.5 l-2.5,1.5 z" fill="#404040"/>
<path d="M300,8.5 H302 V2 H305" stroke="#20a020" stroke-width="1.3" fill="none"/>
<path d="M324.5,0 V14 M322,12.5 H336" stroke="#404040" stroke-width="1.2" fill="none"/><path d="M336,11 l2.5,1.5 l-2.5,1.5 z" fill="#404040"/>
<rect x="328" y="0" width="4.5" height="7.5" fill="#30d030" stroke="#108010" stroke-width="0.8"/><rect x="329.8" y="7.5" width="1" height="2.5" fill="#108010"/>
<path d="M352.5,0 V14 M350,12.5 H364" stroke="#404040" stroke-width="1.2" fill="none"/><path d="M364,11 l2.5,1.5 l-2.5,1.5 z" fill="#404040"/>
<path d="M352,8.5 Q357,1 360,3 T364,6.5" stroke="#20a020" stroke-width="1.2" fill="none"/>
<circle cx="388" cy="3.5" r="5" fill="#dcefff" stroke="#2a6fd0" stroke-width="1.2"/>
<rect x="385" y="2.8" width="6" height="1.6" fill="#2a6fd0"/>
<rect x="387.2" y="0.5" width="1.6" height="6" fill="#2a6fd0"/>
<line x1="391.5" y1="7" x2="397" y2="12.5" stroke="#c8a020" stroke-width="2.4"/>
<circle cx="416" cy="3.5" r="5" fill="#dcefff" stroke="#2a6fd0" stroke-width="1.2"/>
<rect x="413" y="2.8" width="6" height="1.6" fill="#2a6fd0"/>
<line x1="419.5" y1="7" x2="425" y2="12.5" stroke="#c8a020" stroke-width="2.4"/>
<rect x="438" y="-1" width="7.5" height="6.5" fill="#3aa030"/><rect x="446.5" y="-1" width="7.5" height="6.5" fill="#3a6ad0"/>
<rect x="438" y="6.5" width="7.5" height="7" fill="#3a6ad0"/><rect x="446.5" y="6.5" width="7.5" height="7" fill="#3aa030"/>
<rect x="439.5" y="1.5" width="4.5" height="1.5" fill="#fff"/>
<rect x="439.5" y="9" width="4.5" height="1.5" fill="#fff"/>
<rect x="448" y="1.5" width="4.5" height="1.5" fill="#fff"/>
<rect x="448" y="9" width="4.5" height="1.5" fill="#fff"/>
<path d="M476.5,0 V14 M474,12.5 H488" stroke="#404040" stroke-width="1.2" fill="none"/><path d="M488,11 l2.5,1.5 l-2.5,1.5 z" fill="#404040"/>
<path d="M481.5,2.5 L486,5.5 L481.5,8.5 Z" fill="none" stroke="#20a020" stroke-width="1.2"/>
<path d="M504.5,0 V14 M502,12.5 H516" stroke="#404040" stroke-width="1.2" fill="none"/><path d="M516,11 l2.5,1.5 l-2.5,1.5 z" fill="#404040"/>
<rect x="510" y="0" width="1" height="10" fill="#2a70c0"/><path d="M511,5.5 l4,-2.5 v5 z" fill="#d04010"/><rect x="513" y="5" width="3" height="1" fill="#d04010"/>
<rect x="535.5" y="-2" width="10" height="12" fill="#fff" stroke="#606060"/>
<path d="M543,5 h3.6 v3.4 h3.4 v3.6 h-3.4 v3.4 h-3.6 v-3.4 h-3.4 v-3.6 h3.4 z" fill="#2ee02e" stroke="#108010" stroke-width="0.8"/>
<path d="M556.5,5 h6 l-3,3 z" fill="#000"/>
<path d="M595.5,5 h6 l-3,3 z" fill="#000"/>
<path d="M634,5 h6 l-3,3 z" fill="#000"/>
<path d="M940.5,5 h6 l-3,3 z" fill="#000"/>
<circle cx="581" cy="5" r="7" fill="#2a72d0"/><circle cx="581" cy="5" r="5" fill="#f4f8ff"/>
<path d="M581,1.5 V5 H584" stroke="#303030" stroke-width="1" fill="none"/>
<rect x="612.5" y="-1" width="15" height="13" fill="#fff" stroke="#3a6ad0"/>
<rect x="613" y="-1" width="14" height="2" fill="#6a9ae0"/><rect x="613" y="5.5" width="14" height="1" fill="#3a6ad0"/>
<path d="M614,4 l3,-1 l3,1 l3,-1.5 l3,0.5" stroke="#c03010" stroke-width="1" fill="none"/>
<path d="M614,10 l3,-1 l3,0.5 l3,-2 l3,1.5" stroke="#20a020" stroke-width="1" fill="none"/>
<path d="M664,0 L664,10 L666.5,8 L668.5,12.5 L670.5,11.5 L668.5,7.5 L671.5,7.5 Z" fill="#505050"/>
<rect x="689" y="6" width="15" height="1" fill="#404040"/><rect x="696" y="0" width="1" height="14" fill="#404040"/>
<rect x="730" y="0" width="1" height="13" fill="#404040"/>
<rect x="753" y="6" width="12" height="1.2" fill="#404040"/>
<line x1="781" y1="13" x2="793" y2="1" stroke="#505050" stroke-width="1"/>
<path d="M808,11 L818,1 M810,13 L820,3 M809,7 l2,2 M812,4 l2,2 M815,1 l2,2" stroke="#404040" stroke-width="1" fill="none"/>
<text x="818" y="15" font-family="Liberation Sans,sans-serif" font-size="7.5px" font-weight="bold" fill="#404040">E</text>
<line x1="836" y1="2.5" x2="849" y2="2.5" stroke="#404040" stroke-width="1" stroke-dasharray="1 1"/>
<line x1="836" y1="6.5" x2="849" y2="6.5" stroke="#404040" stroke-width="1" stroke-dasharray="1 1"/>
<line x1="836" y1="10.5" x2="849" y2="10.5" stroke="#404040" stroke-width="1" stroke-dasharray="1 1"/>
<text x="846" y="15" font-family="Liberation Sans,sans-serif" font-size="7.5px" font-weight="bold" fill="#404040">F</text>
<text x="866.5" y="11" font-family="Liberation Sans,sans-serif" font-size="11px" font-weight="bold" fill="#505050">A</text>
<rect x="893.5" y="-1" width="11.5" height="13.5" fill="none" stroke="#505050" stroke-dasharray="1 1"/>
<text x="895.5" y="10.5" font-family="Liberation Sans,sans-serif" font-size="11px" font-weight="bold" fill="#505050">T</text>
<path d="M920,3 l3,-3 l3,3 l-3,2 z M929,9.5 l3,-2 l3,2 l-3,3 z" fill="#404040"/><path d="M922.5,6.5 l2.5,2.5 l4,-6" stroke="#404040" stroke-width="1.1" fill="none"/>
<text x="967.8" y="10" font-family="Liberation Sans,sans-serif" font-size="9.6px" fill="#3a3a3a">M1</text>
<text x="995.5" y="10" font-family="Liberation Sans,sans-serif" font-size="9.6px" fill="#3a3a3a">M5</text>
<text x="1021.5" y="10" font-family="Liberation Sans,sans-serif" font-size="9.6px" fill="#3a3a3a">M15</text>
<text x="1049.8" y="10" font-family="Liberation Sans,sans-serif" font-size="9.6px" fill="#3a3a3a">M30</text>
<text x="1080.5" y="10" font-family="Liberation Sans,sans-serif" font-size="9.6px" fill="#3a3a3a">H1</text>
<text x="1107.7" y="10" font-family="Liberation Sans,sans-serif" font-size="9.6px" fill="#3a3a3a">H4</text>
<text x="1136.6" y="10" font-family="Liberation Sans,sans-serif" font-size="9.6px" fill="#3a3a3a">D1</text>
<text x="1163.8" y="10" font-family="Liberation Sans,sans-serif" font-size="9.6px" fill="#3a3a3a">W1</text>
<text x="1190.5" y="10" font-family="Liberation Sans,sans-serif" font-size="9.6px" fill="#3a3a3a">MN</text>
<circle cx="1683.4" cy="3.6" r="3.8" fill="#f4f6ff" stroke="#2a5fd0" stroke-width="1.4"/>
<line x1="1681" y1="6.3" x2="1676.8" y2="10.7" stroke="#2a5fd0" stroke-width="2.2"/>
<path d="M1701,8.5 q0,-5 6,-5 q6,0 6,5 q0,4 -6,4 l-2,0 l-2,2 l0,-2.5 q-2,-1 -2,-3.5z" fill="#eceef2" stroke="#a8a8a8" stroke-width="0.8"/>
<circle cx="1714.3" cy="4.5" r="7.7" fill="#d8301a"/>
<text x="1711.3" y="8" font-family="Liberation Serif,serif" font-size="11px" font-weight="bold" fill="#fff">1</text>
</svg>

<div class="oc">
  <div class="sell">SELL</div>
  <div class="lot"><div class="dn"><i></i></div><div class="val">1.00</div><div class="up"><i></i></div></div>
  <div class="buy">BUY</div>
  <div class="pb pl"><span class="s">29261</span><span class="d">.</span><span class="b">0</span></div>
  <div class="pb pr"><span class="s">29284</span><span class="d">.</span><span class="b">0</span></div>
</div>
</div></body></html>
